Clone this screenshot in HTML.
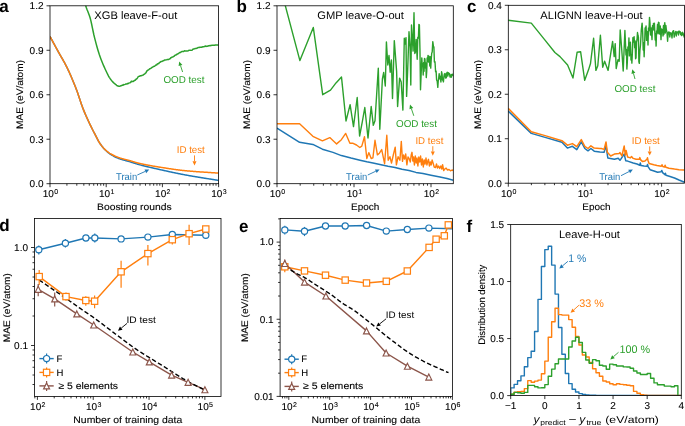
<!DOCTYPE html>
<html><head><meta charset="utf-8"><style>
html,body{margin:0;padding:0;background:#fff;}
svg{display:block;font-family:"Liberation Sans", sans-serif;will-change:transform;text-rendering:geometricPrecision;}
</style></head><body>
<svg width="685" height="426" viewBox="0 0 685 426">
<rect width="685" height="426" fill="#fff"/>
<defs>
<clipPath id="ca"><rect x="50" y="5.8" width="168.6" height="177.9"/></clipPath>
<clipPath id="cb"><rect x="277" y="5.8" width="176.3" height="177.9"/></clipPath>
<clipPath id="cc"><rect x="508.3" y="5.3" width="176.2" height="177.9"/></clipPath>
<clipPath id="cd"><rect x="34.5" y="218.5" width="186.5" height="177.9"/></clipPath>
<clipPath id="ce"><rect x="280.1" y="218.5" width="172.3" height="177.9"/></clipPath>
<clipPath id="cf"><rect x="510.7" y="224.5" width="170.6" height="171.1"/></clipPath>
</defs>
<path d="M50,36.5 L50.51,37.43 L51.01,38.36 L51.52,39.29 L52.02,40.22 L52.53,41.16 L53.04,42.09 L53.54,43.02 L54.05,43.95 L54.55,44.88 L55.06,45.81 L55.56,46.74 L56.07,47.67 L56.58,48.6 L57.08,49.53 L57.59,50.45 L58.09,51.38 L58.6,52.3 L59.11,53.23 L59.62,54.14 L60.14,55.04 L60.65,55.93 L61.16,56.82 L61.67,57.71 L62.19,58.6 L62.7,59.49 L63.21,60.38 L63.73,61.29 L64.24,62.21 L64.75,63.15 L65.26,64.1 L65.77,65.08 L66.29,66.07 L66.8,67.1 L67.32,68.16 L67.83,69.23 L68.35,70.32 L68.86,71.43 L69.38,72.56 L69.89,73.71 L70.41,74.87 L70.93,76.05 L71.44,77.24 L71.96,78.45 L72.47,79.68 L72.99,80.92 L73.51,82.18 L74.02,83.45 L74.54,84.73 L75.05,86.03 L75.57,87.34 L76.08,88.66 L76.6,90 L77.1,91.34 L77.6,92.73 L78.1,94.17 L78.6,95.65 L79.1,97.16 L79.6,98.68 L80.1,100.2 L80.6,101.72 L81.1,103.22 L81.6,104.68 L82.1,106.11 L82.6,107.49 L83.1,108.8 L83.62,110.11 L84.14,111.38 L84.65,112.63 L85.17,113.85 L85.69,115.05 L86.21,116.23 L86.73,117.39 L87.25,118.53 L87.76,119.66 L88.28,120.78 L88.8,121.9 L89.31,122.99 L89.82,124.06 L90.33,125.12 L90.84,126.16 L91.35,127.19 L91.85,128.22 L92.36,129.23 L92.87,130.23 L93.38,131.23 L93.89,132.22 L94.4,133.2 L94.91,134.19 L95.42,135.19 L95.93,136.19 L96.44,137.19 L96.95,138.18 L97.45,139.16 L97.96,140.11 L98.47,141.02 L98.98,141.9 L99.49,142.73 L100,143.5 L100.51,144.23 L101.02,144.94 L101.53,145.63 L102.04,146.3 L102.55,146.94 L103.05,147.56 L103.56,148.16 L104.07,148.73 L104.58,149.28 L105.09,149.8 L105.6,150.3 L106.12,150.79 L106.64,151.26 L107.15,151.72 L107.67,152.16 L108.19,152.59 L108.71,153 L109.23,153.39 L109.75,153.77 L110.26,154.13 L110.78,154.47 L111.3,154.8 L111.8,155.1 L112.3,155.4 L112.8,155.68 L113.3,155.96 L113.8,156.23 L114.3,156.5 L114.8,156.75 L115.3,157 L115.8,157.23 L116.3,157.46 L116.8,157.69 L117.3,157.9 L117.8,158.11 L118.3,158.31 L118.8,158.5 L119.31,158.69 L119.82,158.87 L120.33,159.04 L120.84,159.21 L121.35,159.37 L121.85,159.53 L122.36,159.68 L122.87,159.83 L123.38,159.97 L123.89,160.11 L124.4,160.25 L124.91,160.39 L125.42,160.53 L125.93,160.67 L126.44,160.8 L126.95,160.94 L127.45,161.08 L127.96,161.22 L128.47,161.36 L128.98,161.5 L129.49,161.65 L130,161.8 L130.51,161.95 L131.01,162.11 L131.52,162.27 L132.02,162.43 L132.53,162.59 L133.03,162.75 L133.54,162.91 L134.04,163.07 L134.55,163.23 L135.06,163.39 L135.56,163.55 L136.07,163.71 L136.57,163.86 L137.08,164.02 L137.58,164.17 L138.09,164.32 L138.59,164.46 L139.1,164.6 L139.6,164.74 L140.11,164.87 L140.61,165.01 L141.11,165.14 L141.61,165.27 L142.12,165.4 L142.62,165.53 L143.12,165.66 L143.62,165.79 L144.13,165.92 L144.63,166.04 L145.13,166.17 L145.63,166.29 L146.14,166.41 L146.64,166.54 L147.14,166.66 L147.64,166.78 L148.15,166.9 L148.65,167.02 L149.15,167.14 L149.66,167.25 L150.16,167.37 L150.66,167.49 L151.16,167.6 L151.67,167.72 L152.17,167.83 L152.67,167.95 L153.17,168.06 L153.68,168.18 L154.18,168.29 L154.68,168.41 L155.18,168.52 L155.69,168.63 L156.19,168.75 L156.69,168.86 L157.19,168.97 L157.7,169.09 L158.2,169.2 L158.7,169.31 L159.2,169.43 L159.71,169.54 L160.21,169.65 L160.71,169.76 L161.21,169.88 L161.71,169.99 L162.21,170.1 L162.72,170.21 L163.22,170.32 L163.72,170.44 L164.22,170.55 L164.72,170.66 L165.22,170.77 L165.73,170.88 L166.23,170.99 L166.73,171.1 L167.23,171.21 L167.73,171.32 L168.24,171.43 L168.74,171.54 L169.24,171.65 L169.74,171.75 L170.24,171.86 L170.74,171.97 L171.25,172.08 L171.75,172.18 L172.25,172.29 L172.75,172.4 L173.25,172.5 L173.76,172.61 L174.26,172.71 L174.76,172.82 L175.26,172.92 L175.76,173.03 L176.26,173.13 L176.77,173.23 L177.27,173.34 L177.77,173.44 L178.27,173.54 L178.77,173.64 L179.28,173.74 L179.78,173.84 L180.28,173.94 L180.78,174.04 L181.28,174.14 L181.78,174.24 L182.29,174.34 L182.79,174.44 L183.29,174.53 L183.79,174.63 L184.29,174.72 L184.79,174.82 L185.3,174.91 L185.8,175.01 L186.3,175.1 L186.8,175.19 L187.31,175.28 L187.81,175.38 L188.31,175.47 L188.82,175.56 L189.32,175.65 L189.82,175.74 L190.33,175.83 L190.83,175.91 L191.33,176 L191.83,176.09 L192.34,176.18 L192.84,176.26 L193.34,176.35 L193.85,176.43 L194.35,176.52 L194.85,176.6 L195.36,176.69 L195.86,176.77 L196.36,176.85 L196.87,176.94 L197.37,177.02 L197.87,177.1 L198.38,177.18 L198.88,177.27 L199.38,177.35 L199.88,177.43 L200.39,177.51 L200.89,177.59 L201.39,177.67 L201.9,177.75 L202.4,177.83 L202.9,177.91 L203.41,177.99 L203.91,178.07 L204.41,178.15 L204.92,178.23 L205.42,178.31 L205.92,178.39 L206.43,178.47 L206.93,178.55 L207.43,178.63 L207.93,178.71 L208.44,178.79 L208.94,178.87 L209.44,178.95 L209.95,179.03 L210.45,179.11 L210.95,179.19 L211.46,179.27 L211.96,179.35 L212.46,179.43 L212.97,179.51 L213.47,179.59 L213.97,179.67 L214.47,179.75 L214.98,179.83 L215.48,179.91 L215.98,179.99 L216.49,180.07 L216.99,180.15 L217.49,180.23 L218,180.32 L218.5,180.4" fill="none" stroke="#1f77b4" stroke-width="1.5" stroke-linejoin="round" stroke-linecap="butt" clip-path="url(#ca)" />
<path d="M50,36.5 L50.51,37.43 L51.01,38.36 L51.52,39.29 L52.02,40.22 L52.53,41.16 L53.04,42.09 L53.54,43.02 L54.05,43.95 L54.55,44.88 L55.06,45.81 L55.56,46.74 L56.07,47.67 L56.58,48.6 L57.08,49.53 L57.59,50.45 L58.09,51.38 L58.6,52.3 L59.11,53.23 L59.62,54.14 L60.14,55.04 L60.65,55.93 L61.16,56.82 L61.67,57.71 L62.19,58.6 L62.7,59.49 L63.21,60.38 L63.73,61.29 L64.24,62.21 L64.75,63.15 L65.26,64.1 L65.77,65.08 L66.29,66.07 L66.8,67.1 L67.32,68.16 L67.83,69.23 L68.35,70.32 L68.86,71.43 L69.38,72.56 L69.89,73.71 L70.41,74.87 L70.93,76.05 L71.44,77.24 L71.96,78.45 L72.47,79.68 L72.99,80.92 L73.51,82.18 L74.02,83.45 L74.54,84.73 L75.05,86.03 L75.57,87.34 L76.08,88.66 L76.6,90 L77.1,91.34 L77.6,92.73 L78.1,94.17 L78.6,95.65 L79.1,97.16 L79.6,98.68 L80.1,100.2 L80.6,101.72 L81.1,103.22 L81.6,104.68 L82.1,106.11 L82.6,107.49 L83.1,108.8 L83.62,110.11 L84.14,111.38 L84.65,112.63 L85.17,113.85 L85.69,115.05 L86.21,116.23 L86.73,117.39 L87.25,118.53 L87.76,119.66 L88.28,120.78 L88.8,121.9 L89.31,122.99 L89.82,124.06 L90.33,125.12 L90.84,126.16 L91.35,127.19 L91.85,128.22 L92.36,129.23 L92.87,130.23 L93.38,131.23 L93.89,132.22 L94.4,133.2 L94.91,134.19 L95.42,135.19 L95.93,136.2 L96.44,137.21 L96.95,138.2 L97.45,139.18 L97.96,140.13 L98.47,141.04 L98.98,141.91 L99.49,142.74 L100,143.5 L100.51,144.22 L101.02,144.92 L101.53,145.59 L102.04,146.25 L102.55,146.88 L103.05,147.48 L103.56,148.06 L104.07,148.61 L104.58,149.13 L105.09,149.63 L105.6,150.1 L106.12,150.55 L106.64,150.99 L107.15,151.41 L107.67,151.81 L108.19,152.2 L108.71,152.57 L109.23,152.92 L109.75,153.27 L110.26,153.59 L110.78,153.9 L111.3,154.2 L111.8,154.48 L112.3,154.75 L112.8,155.01 L113.3,155.26 L113.8,155.51 L114.3,155.75 L114.8,155.99 L115.3,156.21 L115.8,156.43 L116.3,156.64 L116.8,156.85 L117.3,157.05 L117.8,157.24 L118.3,157.42 L118.8,157.6 L119.31,157.77 L119.82,157.94 L120.33,158.1 L120.84,158.26 L121.35,158.41 L121.85,158.56 L122.36,158.7 L122.87,158.84 L123.38,158.98 L123.89,159.11 L124.4,159.25 L124.91,159.38 L125.42,159.5 L125.93,159.63 L126.44,159.76 L126.95,159.89 L127.45,160.02 L127.96,160.15 L128.47,160.29 L128.98,160.42 L129.49,160.56 L130,160.7 L130.51,160.84 L131.01,160.99 L131.52,161.14 L132.02,161.29 L132.53,161.44 L133.03,161.6 L133.54,161.75 L134.04,161.9 L134.55,162.06 L135.06,162.21 L135.56,162.36 L136.07,162.5 L136.57,162.65 L137.08,162.79 L137.58,162.92 L138.09,163.05 L138.59,163.18 L139.1,163.3 L139.6,163.42 L140.11,163.53 L140.61,163.64 L141.11,163.76 L141.61,163.87 L142.12,163.97 L142.62,164.08 L143.12,164.19 L143.62,164.29 L144.13,164.39 L144.63,164.5 L145.13,164.6 L145.63,164.7 L146.14,164.79 L146.64,164.89 L147.14,164.99 L147.64,165.08 L148.15,165.18 L148.65,165.27 L149.15,165.36 L149.66,165.45 L150.16,165.54 L150.66,165.63 L151.16,165.72 L151.67,165.81 L152.17,165.9 L152.67,165.98 L153.17,166.07 L153.68,166.15 L154.18,166.24 L154.68,166.32 L155.18,166.41 L155.69,166.49 L156.19,166.57 L156.69,166.66 L157.19,166.74 L157.7,166.82 L158.2,166.9 L158.7,166.98 L159.2,167.06 L159.71,167.14 L160.21,167.22 L160.71,167.3 L161.21,167.38 L161.71,167.47 L162.21,167.55 L162.72,167.63 L163.22,167.71 L163.72,167.78 L164.22,167.86 L164.72,167.94 L165.22,168.02 L165.73,168.1 L166.23,168.18 L166.73,168.26 L167.23,168.33 L167.73,168.41 L168.24,168.49 L168.74,168.56 L169.24,168.64 L169.74,168.71 L170.24,168.79 L170.74,168.86 L171.25,168.94 L171.75,169.01 L172.25,169.08 L172.75,169.16 L173.25,169.23 L173.76,169.3 L174.26,169.37 L174.76,169.44 L175.26,169.51 L175.76,169.57 L176.26,169.64 L176.77,169.71 L177.27,169.77 L177.77,169.84 L178.27,169.9 L178.77,169.97 L179.28,170.03 L179.78,170.09 L180.28,170.15 L180.78,170.21 L181.28,170.27 L181.78,170.33 L182.29,170.38 L182.79,170.44 L183.29,170.49 L183.79,170.55 L184.29,170.6 L184.79,170.65 L185.3,170.7 L185.8,170.75 L186.3,170.8 L186.8,170.85 L187.31,170.89 L187.81,170.94 L188.31,170.99 L188.82,171.03 L189.32,171.07 L189.82,171.12 L190.33,171.16 L190.83,171.2 L191.33,171.24 L191.83,171.28 L192.34,171.33 L192.84,171.37 L193.34,171.4 L193.85,171.44 L194.35,171.48 L194.85,171.52 L195.36,171.56 L195.86,171.59 L196.36,171.63 L196.87,171.67 L197.37,171.7 L197.87,171.74 L198.38,171.77 L198.88,171.81 L199.38,171.84 L199.88,171.88 L200.39,171.91 L200.89,171.95 L201.39,171.98 L201.9,172.01 L202.4,172.04 L202.9,172.08 L203.41,172.11 L203.91,172.14 L204.41,172.18 L204.92,172.21 L205.42,172.24 L205.92,172.27 L206.43,172.3 L206.93,172.34 L207.43,172.37 L207.93,172.4 L208.44,172.43 L208.94,172.46 L209.44,172.5 L209.95,172.53 L210.45,172.56 L210.95,172.59 L211.46,172.63 L211.96,172.66 L212.46,172.69 L212.97,172.72 L213.47,172.76 L213.97,172.79 L214.47,172.82 L214.98,172.86 L215.48,172.89 L215.98,172.92 L216.49,172.96 L216.99,172.99 L217.49,173.03 L218,173.06 L218.5,173.1" fill="none" stroke="#ff7f0e" stroke-width="1.5" stroke-linejoin="round" stroke-linecap="butt" clip-path="url(#ca)" />
<path d="M84.3,0 L84.95,2.76 L85.6,5.3 L86.35,7.65 L87.1,9.68 L87.85,11.55 L88.6,13.42 L89.35,15.45 L90.1,17.8 L90.85,20.67 L91.6,23.99 L92.35,27.58 L93.1,31.23 L93.85,34.74 L94.6,37.9 L95.39,40.93 L96.17,43.87 L96.96,46.71 L97.74,49.44 L98.53,52.04 L99.31,54.5 L100.1,56.8 L100.8,58.73 L101.5,60.56 L102.2,62.32 L102.9,64 L103.6,65.62 L104.3,67.18 L105,68.71 L105.7,70.2 L106.42,71.72 L107.13,73.22 L107.85,74.67 L108.57,76.04 L109.28,77.29 L110,78.4 L110.75,79.44 L111.5,80.4 L112.25,81.3 L113,82.12 L113.75,82.85 L114.5,83.5 L115.22,84.1 L115.93,84.71 L116.65,85.28 L117.37,85.76 L118.08,86.08 L118.8,86.2 L119.51,86.15 L120.22,86.03 L120.94,85.84 L121.65,85.49 L122.36,85.11 L123.08,85.19 L123.79,84.53 L124.5,84.63 L125.21,84.31 L125.92,83.93 L126.64,84.08 L127.35,83.58 L128.06,83.66 L128.77,83.16 L129.49,82.88 L130.2,82.75 L130.7,82.39 L131.2,81.34 L131.85,81.3 L132.5,81.49 L133.21,81.49 L133.93,80.91 L134.64,80.35 L135.36,80.25 L136.07,79.01 L136.79,78.94 L137.5,77.85 L137.9,77.17 L138.3,76.63 L139.01,76.32 L139.73,76.34 L140.44,75.63 L141.15,75.7 L141.86,75.54 L142.57,75.14 L143.29,74.99 L144,74.29 L144.75,73.79 L145.5,73.19 L146.15,72.43 L146.8,71.15 L147.65,70.29 L148.5,69.86 L149.24,69.24 L149.97,68.62 L150.71,68.48 L151.45,67.95 L152.18,67.17 L152.92,66.96 L153.65,66.48 L154.39,66.29 L155.13,65.75 L155.86,65 L156.6,65.04 L157.32,63.98 L158.04,63.72 L158.76,63.47 L159.48,62.57 L160.2,62.33 L160.92,61.56 L161.64,61.57 L162.36,61.24 L163.08,60.75 L163.8,60.66 L164.51,60.03 L165.22,60.1 L165.93,59.87 L166.64,59.72 L167.36,59.48 L168.07,59.59 L168.78,59.47 L169.49,58.89 L170.2,58.71 L170.85,57.73 L171.5,57.54 L172.4,56.94 L173.3,56.71 L174.2,56.13 L174.92,55.36 L175.65,55.06 L176.38,54.89 L177.1,54.07 L177.82,54 L178.55,53.41 L179.28,52.97 L180,52.49 L180.65,52.5 L181.3,51.64 L182.08,51.47 L182.87,51.37 L183.65,51.55 L184.43,50.86 L185.22,50.99 L186,50.93 L186.72,51.06 L187.43,50.92 L188.15,50.87 L188.87,50.37 L189.58,50.36 L190.3,50.2 L191.14,50.37 L191.98,50.17 L192.82,49.32 L193.66,49.05 L194.5,48.81 L195.26,48.57 L196.02,48.49 L196.78,48.32 L197.54,47.85 L198.3,47.45 L199.08,47.54 L199.87,47.3 L200.65,47.25 L201.43,47.34 L202.22,46.99 L203,46.71 L203.71,46.65 L204.43,46.56 L205.14,46 L205.86,46.47 L206.57,46.28 L207.29,46.25 L208,46.11 L208.71,45.75 L209.43,45.69 L210.14,45.42 L210.86,45.73 L211.57,45.28 L212.29,45.24 L213,45.3 L213.79,45.23 L214.57,45.32 L215.36,45.09 L216.14,45.03 L216.93,45.11 L217.71,45.05 L218.5,45.2" fill="none" stroke="#2ca02c" stroke-width="1.5" stroke-linejoin="round" stroke-linecap="butt" clip-path="url(#ca)" />
<rect x="50" y="5.8" width="168.6" height="177.9" fill="none" stroke="#000" stroke-width="0.8"/>
<line x1="46.5" y1="183.7" x2="50" y2="183.7" stroke="#000" stroke-width="0.8"/>
<text x="43.5" y="187.05" font-size="10" text-anchor="end" fill="#000" font-weight="normal" stroke="#000" stroke-width="0.1" >0.0</text>
<line x1="46.5" y1="139.22" x2="50" y2="139.22" stroke="#000" stroke-width="0.8"/>
<text x="43.5" y="142.57" font-size="10" text-anchor="end" fill="#000" font-weight="normal" stroke="#000" stroke-width="0.1" >0.3</text>
<line x1="46.5" y1="94.75" x2="50" y2="94.75" stroke="#000" stroke-width="0.8"/>
<text x="43.5" y="98.1" font-size="10" text-anchor="end" fill="#000" font-weight="normal" stroke="#000" stroke-width="0.1" >0.6</text>
<line x1="46.5" y1="50.28" x2="50" y2="50.28" stroke="#000" stroke-width="0.8"/>
<text x="43.5" y="53.63" font-size="10" text-anchor="end" fill="#000" font-weight="normal" stroke="#000" stroke-width="0.1" >0.9</text>
<line x1="46.5" y1="5.8" x2="50" y2="5.8" stroke="#000" stroke-width="0.8"/>
<text x="43.5" y="9.15" font-size="10" text-anchor="end" fill="#000" font-weight="normal" stroke="#000" stroke-width="0.1" >1.2</text>
<line x1="50" y1="183.7" x2="50" y2="187.2" stroke="#000" stroke-width="0.8"/>
<line x1="66.92" y1="183.7" x2="66.92" y2="185.7" stroke="#000" stroke-width="0.8"/>
<line x1="76.81" y1="183.7" x2="76.81" y2="185.7" stroke="#000" stroke-width="0.8"/>
<line x1="83.84" y1="183.7" x2="83.84" y2="185.7" stroke="#000" stroke-width="0.8"/>
<line x1="89.28" y1="183.7" x2="89.28" y2="185.7" stroke="#000" stroke-width="0.8"/>
<line x1="93.73" y1="183.7" x2="93.73" y2="185.7" stroke="#000" stroke-width="0.8"/>
<line x1="97.49" y1="183.7" x2="97.49" y2="185.7" stroke="#000" stroke-width="0.8"/>
<line x1="100.75" y1="183.7" x2="100.75" y2="185.7" stroke="#000" stroke-width="0.8"/>
<line x1="103.63" y1="183.7" x2="103.63" y2="185.7" stroke="#000" stroke-width="0.8"/>
<line x1="106.2" y1="183.7" x2="106.2" y2="187.2" stroke="#000" stroke-width="0.8"/>
<line x1="123.12" y1="183.7" x2="123.12" y2="185.7" stroke="#000" stroke-width="0.8"/>
<line x1="133.01" y1="183.7" x2="133.01" y2="185.7" stroke="#000" stroke-width="0.8"/>
<line x1="140.04" y1="183.7" x2="140.04" y2="185.7" stroke="#000" stroke-width="0.8"/>
<line x1="145.48" y1="183.7" x2="145.48" y2="185.7" stroke="#000" stroke-width="0.8"/>
<line x1="149.93" y1="183.7" x2="149.93" y2="185.7" stroke="#000" stroke-width="0.8"/>
<line x1="153.69" y1="183.7" x2="153.69" y2="185.7" stroke="#000" stroke-width="0.8"/>
<line x1="156.95" y1="183.7" x2="156.95" y2="185.7" stroke="#000" stroke-width="0.8"/>
<line x1="159.83" y1="183.7" x2="159.83" y2="185.7" stroke="#000" stroke-width="0.8"/>
<line x1="162.4" y1="183.7" x2="162.4" y2="187.2" stroke="#000" stroke-width="0.8"/>
<line x1="179.32" y1="183.7" x2="179.32" y2="185.7" stroke="#000" stroke-width="0.8"/>
<line x1="189.21" y1="183.7" x2="189.21" y2="185.7" stroke="#000" stroke-width="0.8"/>
<line x1="196.24" y1="183.7" x2="196.24" y2="185.7" stroke="#000" stroke-width="0.8"/>
<line x1="201.68" y1="183.7" x2="201.68" y2="185.7" stroke="#000" stroke-width="0.8"/>
<line x1="206.13" y1="183.7" x2="206.13" y2="185.7" stroke="#000" stroke-width="0.8"/>
<line x1="209.89" y1="183.7" x2="209.89" y2="185.7" stroke="#000" stroke-width="0.8"/>
<line x1="213.15" y1="183.7" x2="213.15" y2="185.7" stroke="#000" stroke-width="0.8"/>
<line x1="216.03" y1="183.7" x2="216.03" y2="185.7" stroke="#000" stroke-width="0.8"/>
<line x1="218.6" y1="183.7" x2="218.6" y2="187.2" stroke="#000" stroke-width="0.8"/>
<text x="42.7" y="197.4" font-size="10" text-anchor="start" fill="#000" font-weight="normal" stroke="#000" stroke-width="0.1" >10</text>
<text x="54.2" y="194" font-size="7" text-anchor="start" fill="#000" font-weight="normal" stroke="#000" stroke-width="0.1" >0</text>
<text x="98.9" y="197.4" font-size="10" text-anchor="start" fill="#000" font-weight="normal" stroke="#000" stroke-width="0.1" >10</text>
<text x="110.4" y="194" font-size="7" text-anchor="start" fill="#000" font-weight="normal" stroke="#000" stroke-width="0.1" >1</text>
<text x="155.1" y="197.4" font-size="10" text-anchor="start" fill="#000" font-weight="normal" stroke="#000" stroke-width="0.1" >10</text>
<text x="166.6" y="194" font-size="7" text-anchor="start" fill="#000" font-weight="normal" stroke="#000" stroke-width="0.1" >2</text>
<text x="211.3" y="197.4" font-size="10" text-anchor="start" fill="#000" font-weight="normal" stroke="#000" stroke-width="0.1" >10</text>
<text x="222.8" y="194" font-size="7" text-anchor="start" fill="#000" font-weight="normal" stroke="#000" stroke-width="0.1" >3</text>
<text x="135.8" y="19" font-size="11" text-anchor="middle" fill="#000" font-weight="normal" textLength="83" lengthAdjust="spacingAndGlyphs" >XGB leave-F-out</text>
<text x="163.4" y="83.2" font-size="9.9" text-anchor="start" fill="#2ca02c" font-weight="normal" textLength="41" lengthAdjust="spacingAndGlyphs" >OOD test</text>
<line x1="182.6" y1="72" x2="180.49" y2="65.5" stroke="#2ca02c" stroke-width="0.9"/>
<path d="M179.2,61.5 L182.4,64.88 L178.59,66.11 z" fill="#2ca02c"/>
<text x="176.8" y="153.2" font-size="9.9" text-anchor="start" fill="#ff7f0e" font-weight="normal" textLength="28" lengthAdjust="spacingAndGlyphs" >ID test</text>
<line x1="194.5" y1="155.4" x2="194.5" y2="161.2" stroke="#ff7f0e" stroke-width="0.9"/>
<path d="M194.5,165.4 L192.5,161.2 L196.5,161.2 z" fill="#ff7f0e"/>
<text x="116" y="179.8" font-size="9.9" text-anchor="start" fill="#1f77b4" font-weight="normal" textLength="21.2" lengthAdjust="spacingAndGlyphs" >Train</text>
<line x1="137.3" y1="175" x2="145.38" y2="171.34" stroke="#1f77b4" stroke-width="0.9"/>
<path d="M149.2,169.6 L146.2,173.16 L144.55,169.51 z" fill="#1f77b4"/>
<text x="134.4" y="209.8" font-size="9.5" text-anchor="middle" fill="#000" font-weight="normal" textLength="74.6" lengthAdjust="spacingAndGlyphs" stroke="#000" stroke-width="0.1" >Boosting rounds</text>
<text x="0" y="0" font-size="9.5" text-anchor="middle" fill="#000" font-weight="normal" textLength="69" lengthAdjust="spacingAndGlyphs" stroke="#000" stroke-width="0.1" transform="translate(23.1,94.5) rotate(-90)">MAE (eV/atom)</text>
<text x="-0.7" y="12.2" font-size="17" text-anchor="start" fill="#000" font-weight="bold" >a</text>
<path d="M277,128.1 L299.6,142.3 L312.9,144.4 L322.4,149.2 L333,152.4 L341.4,155.6 L351,158.1 L360,160.2 L366.8,161.8 L373,162.9 L381,164.7 L388,166.3 L395,167.5 L402,169.3 L409,170.5 L416,172.4 L423,173.6 L431,175.2 L440,177 L447,178.6 L453.3,180.2" fill="none" stroke="#1f77b4" stroke-width="1.5" stroke-linejoin="round" stroke-linecap="butt" clip-path="url(#cb)" />
<path d="M277,123.7 L299.6,123.7 L312.9,136.3 L322.4,140.8 L329.8,137.6 L336.6,143.9 L341.4,139.7 L345.7,133.4 L349.9,143.3 L353.1,143.3 L356.5,145 L359.8,147.5 L361.8,146.1 L364.5,136.7 L366.8,158.5 L368.8,152.6 L371.2,158.5 L372.9,157.9 L375,140.3 L377.4,154.9 L379.4,153.2 L381.7,149.6 L384.6,163.7 L386.8,135.3 L388.2,160.2 L389.9,156.7 L391.5,163.1 L393.3,155 L395.2,147.1 L396.4,164.9 L398.1,156.7 L399.9,160.2 L401.3,141.4 L402.5,161.4 L403.5,155 L404.6,159 L405.7,154 L406.9,164.9 L408,157 L409.3,159 L410.3,162 L411.2,155 L412,152.3 L412.8,161 L413.6,157 L414.4,165 L415.3,156 L416.2,163 L417,158 L417.9,166 L418.8,157 L419.7,162 L420.6,156 L421.5,165 L422.4,159 L423.3,167 L424.2,160 L425.1,164 L426,158 L426.9,165 L427.8,161 L428.5,159.3 L429.4,166 L430.3,162 L431.2,165 L432.1,160 L433.2,163.5 L434.2,167 L435.5,167.6 L436.5,164 L437.5,168 L438.6,166 L439.7,168.5 L440.8,166 L441.8,169 L442.6,164.6 L443.7,170.5 L444.8,169 L446.1,168.1 L447.5,170 L449,169.5 L450.5,170.8 L452,170 L453.3,170.5" fill="none" stroke="#ff7f0e" stroke-width="1.4" stroke-linejoin="round" stroke-linecap="butt" clip-path="url(#cb)" />
<path d="M277,-25.6 L299.9,60.6 L313.3,27.4 L322.7,94.7 L330.5,90.2 L336,82.9 L341.5,77.1 L346,121 L350.1,104.7 L353.5,126.6 L357.2,97.5 L359.6,136 L362.3,121.9 L364.8,107.5 L368,138 L371.2,106.5 L373.3,125.3 L375,120.8 L378.3,68.3 L379.8,129.3 L382.4,79 L383.7,72.5 L385.3,86 L386.4,41.9 L387.8,65 L389,55.5 L390.2,72.3 L391.4,59.9 L392.5,98.5 L394.3,40.6 L396.6,71.1 L397.6,106.5 L399.6,78.1 L401.2,82 L402.9,110.1 L404.3,38.2 L405.3,44 L406,37.6 L406.6,96.4 L407.6,72 L409,31.8 L410.1,47.6 L410.8,85 L411.5,25 L413.1,51.1 L414,12.8 L414.8,53.5 L415.6,51.8 L416.2,39.4 L417.2,59.3 L417.8,37.3 L418.4,38.2 L418.9,24.37 L419.4,25 L419.95,49.45 L420.5,89.7 L421.3,70 L421.8,57.87 L422.3,66.3 L422.75,64.03 L423.2,75 L423.63,62.74 L424.07,71.24 L424.5,58.5 L424.95,58.99 L425.4,68 L425.83,62.91 L426.27,77.59 L426.7,71.8 L427.15,57.99 L427.6,60 L428.03,55.44 L428.47,62.01 L428.9,56.2 L429.35,57.98 L429.8,66 L430.27,56.66 L430.73,68.16 L431.2,59.6 L431.7,53.2 L432.2,52 L432.8,41.63 L433.4,46.2 L433.9,47.05 L434.4,62 L435,61.67 L435.6,71.8 L436.1,71.1 L436.6,80 L437.2,81.14 L437.8,87.4 L438.25,80.86 L438.7,78 L439.17,73.65 L439.63,78.75 L440.1,76.3 L440.9,82 L441.6,71.8 L442.05,73.83 L442.5,80 L442.95,78.83 L443.4,81.9 L443.9,76.59 L444.4,74 L444.95,73.55 L445.5,78 L445.93,74.1 L446.37,77.71 L446.8,72.9 L447.3,72.32 L447.8,76 L448.4,72.81 L449,74.1 L449.5,73.6 L450,77 L450.6,74.91 L451.2,77.4 L451.7,74.34 L452.2,75 L452.75,74.17 L453.3,76.3" fill="none" stroke="#2ca02c" stroke-width="1.4" stroke-linejoin="round" stroke-linecap="butt" clip-path="url(#cb)" />
<rect x="277" y="5.8" width="176.3" height="177.9" fill="none" stroke="#000" stroke-width="0.8"/>
<line x1="273.5" y1="183.7" x2="277" y2="183.7" stroke="#000" stroke-width="0.8"/>
<text x="270.5" y="187.05" font-size="10" text-anchor="end" fill="#000" font-weight="normal" stroke="#000" stroke-width="0.1" >0.0</text>
<line x1="273.5" y1="139.22" x2="277" y2="139.22" stroke="#000" stroke-width="0.8"/>
<text x="270.5" y="142.57" font-size="10" text-anchor="end" fill="#000" font-weight="normal" stroke="#000" stroke-width="0.1" >0.3</text>
<line x1="273.5" y1="94.75" x2="277" y2="94.75" stroke="#000" stroke-width="0.8"/>
<text x="270.5" y="98.1" font-size="10" text-anchor="end" fill="#000" font-weight="normal" stroke="#000" stroke-width="0.1" >0.6</text>
<line x1="273.5" y1="50.28" x2="277" y2="50.28" stroke="#000" stroke-width="0.8"/>
<text x="270.5" y="53.63" font-size="10" text-anchor="end" fill="#000" font-weight="normal" stroke="#000" stroke-width="0.1" >0.9</text>
<line x1="273.5" y1="5.8" x2="277" y2="5.8" stroke="#000" stroke-width="0.8"/>
<text x="270.5" y="9.15" font-size="10" text-anchor="end" fill="#000" font-weight="normal" stroke="#000" stroke-width="0.1" >1.2</text>
<line x1="277" y1="183.7" x2="277" y2="187.2" stroke="#000" stroke-width="0.8"/>
<line x1="300.18" y1="183.7" x2="300.18" y2="185.7" stroke="#000" stroke-width="0.8"/>
<line x1="313.74" y1="183.7" x2="313.74" y2="185.7" stroke="#000" stroke-width="0.8"/>
<line x1="323.36" y1="183.7" x2="323.36" y2="185.7" stroke="#000" stroke-width="0.8"/>
<line x1="330.82" y1="183.7" x2="330.82" y2="185.7" stroke="#000" stroke-width="0.8"/>
<line x1="336.92" y1="183.7" x2="336.92" y2="185.7" stroke="#000" stroke-width="0.8"/>
<line x1="342.07" y1="183.7" x2="342.07" y2="185.7" stroke="#000" stroke-width="0.8"/>
<line x1="346.54" y1="183.7" x2="346.54" y2="185.7" stroke="#000" stroke-width="0.8"/>
<line x1="350.48" y1="183.7" x2="350.48" y2="185.7" stroke="#000" stroke-width="0.8"/>
<line x1="354" y1="183.7" x2="354" y2="187.2" stroke="#000" stroke-width="0.8"/>
<line x1="377.18" y1="183.7" x2="377.18" y2="185.7" stroke="#000" stroke-width="0.8"/>
<line x1="390.74" y1="183.7" x2="390.74" y2="185.7" stroke="#000" stroke-width="0.8"/>
<line x1="400.36" y1="183.7" x2="400.36" y2="185.7" stroke="#000" stroke-width="0.8"/>
<line x1="407.82" y1="183.7" x2="407.82" y2="185.7" stroke="#000" stroke-width="0.8"/>
<line x1="413.92" y1="183.7" x2="413.92" y2="185.7" stroke="#000" stroke-width="0.8"/>
<line x1="419.07" y1="183.7" x2="419.07" y2="185.7" stroke="#000" stroke-width="0.8"/>
<line x1="423.54" y1="183.7" x2="423.54" y2="185.7" stroke="#000" stroke-width="0.8"/>
<line x1="427.48" y1="183.7" x2="427.48" y2="185.7" stroke="#000" stroke-width="0.8"/>
<line x1="431" y1="183.7" x2="431" y2="187.2" stroke="#000" stroke-width="0.8"/>
<text x="269.7" y="197.4" font-size="10" text-anchor="start" fill="#000" font-weight="normal" stroke="#000" stroke-width="0.1" >10</text>
<text x="281.2" y="194" font-size="7" text-anchor="start" fill="#000" font-weight="normal" stroke="#000" stroke-width="0.1" >0</text>
<text x="346.7" y="197.4" font-size="10" text-anchor="start" fill="#000" font-weight="normal" stroke="#000" stroke-width="0.1" >10</text>
<text x="358.2" y="194" font-size="7" text-anchor="start" fill="#000" font-weight="normal" stroke="#000" stroke-width="0.1" >1</text>
<text x="423.7" y="197.4" font-size="10" text-anchor="start" fill="#000" font-weight="normal" stroke="#000" stroke-width="0.1" >10</text>
<text x="435.2" y="194" font-size="7" text-anchor="start" fill="#000" font-weight="normal" stroke="#000" stroke-width="0.1" >2</text>
<text x="360.6" y="19" font-size="11" text-anchor="middle" fill="#000" font-weight="normal" textLength="86.6" lengthAdjust="spacingAndGlyphs" >GMP leave-O-out</text>
<text x="396" y="126.9" font-size="9.9" text-anchor="start" fill="#2ca02c" font-weight="normal" textLength="41" lengthAdjust="spacingAndGlyphs" >OOD test</text>
<line x1="413.8" y1="115.8" x2="411.35" y2="108.58" stroke="#2ca02c" stroke-width="0.9"/>
<path d="M410,104.6 L413.24,107.93 L409.46,109.22 z" fill="#2ca02c"/>
<text x="415.4" y="144.3" font-size="9.9" text-anchor="start" fill="#ff7f0e" font-weight="normal" textLength="28" lengthAdjust="spacingAndGlyphs" >ID test</text>
<line x1="432.8" y1="146.2" x2="432.8" y2="151.6" stroke="#ff7f0e" stroke-width="0.9"/>
<path d="M432.8,155.8 L430.8,151.6 L434.8,151.6 z" fill="#ff7f0e"/>
<text x="346.1" y="180.4" font-size="9.9" text-anchor="start" fill="#1f77b4" font-weight="normal" textLength="21.2" lengthAdjust="spacingAndGlyphs" >Train</text>
<line x1="367.8" y1="175" x2="375.81" y2="171.2" stroke="#1f77b4" stroke-width="0.9"/>
<path d="M379.6,169.4 L376.66,173.01 L374.95,169.39 z" fill="#1f77b4"/>
<text x="365.1" y="210.2" font-size="9.5" text-anchor="middle" fill="#000" font-weight="normal" textLength="28.2" lengthAdjust="spacingAndGlyphs" stroke="#000" stroke-width="0.1" >Epoch</text>
<text x="0" y="0" font-size="9.5" text-anchor="middle" fill="#000" font-weight="normal" textLength="69" lengthAdjust="spacingAndGlyphs" stroke="#000" stroke-width="0.1" transform="translate(250.1,94.5) rotate(-90)">MAE (eV/atom)</text>
<text x="236.5" y="12" font-size="17" text-anchor="start" fill="#000" font-weight="bold" >b</text>
<path d="M508.2,111.1 L531.3,133.4 L545.1,137.4 L561.9,142.3 L567.4,148.1 L572.4,146.3 L576.8,149.6 L581.3,141.8 L584.8,148.5 L588,150.8 L590.9,148.5 L594.2,151.2 L599.8,151.9 L604.1,152.2 L606,145.7 L607.8,157.9 L614.4,159.2 L618.2,158.2 L620,160.3 L624.2,154.1 L625.7,160.7 L627.6,161.1 L633.2,163 L637,164 L639.8,165.2 L640.3,163 L641,165.6 L644,166 L647,166.2 L647.5,164.5 L648.2,166.8 L650.1,169.7 L654,171 L657.6,172.3 L661,171.8 L661.8,170.5 L662.6,172.6 L665,174.8 L665.4,173.2 L666,175.2 L670,176.5 L674.5,178 L679,180 L684.5,182.3" fill="none" stroke="#1f77b4" stroke-width="1.5" stroke-linejoin="round" stroke-linecap="butt" clip-path="url(#cc)" />
<path d="M508.2,108.4 L531.3,131.8 L545.1,135.6 L561.9,140.7 L567.4,145.2 L572.4,143.6 L576.8,146.7 L581.3,139.6 L584.8,146.3 L588,148.5 L590.9,145.8 L594.2,148.1 L599.8,148.5 L601.3,148.5 L604.1,149.4 L606,141.9 L607.3,152.2 L610.7,156 L614.4,154.1 L619.1,153.6 L620,152.6 L621.9,156 L624.2,146 L625.3,155.1 L626.1,150.4 L627.6,157 L630.4,157.9 L631.5,156.5 L633.2,158.4 L636,159.2 L639.3,159.2 L639.8,157.6 L640.5,159.6 L642.6,161.6 L645,161 L647.1,159 L647.5,157.8 L648,160.5 L649.1,163.5 L653.8,164.8 L657,165.5 L661.3,166.3 L662,164.8 L662.8,166.5 L664.5,167 L665.1,165.3 L665.8,167.3 L669,168.2 L674.5,169.1 L679,169.7 L684.5,170.1" fill="none" stroke="#ff7f0e" stroke-width="1.5" stroke-linejoin="round" stroke-linecap="butt" clip-path="url(#cc)" />
<path d="M508.2,20.3 L531.3,23.1 L544.4,39.4 L554.9,52.5 L560,56.6 L567.6,65 L573,78 L577.1,52.3 L580.6,51.7 L584.7,80.3 L588.6,69.6 L590.5,63.5 L593.6,38.3 L595.9,70.4 L597.8,65.8 L600.4,35.3 L602.7,67.3 L604.6,61.2 L608.1,70.4 L612.6,41.4 L614.2,56.6 L615.2,43.6 L616.2,68.5 L618,59.7 L619.2,61.2 L620.2,30 L621.8,50.5 L623.2,71 L624.9,30.5 L626,55 L626.43,49.44 L626.87,69.08 L627.3,62.6 L627.9,46.88 L628.5,50 L628.93,37.88 L629.37,55.86 L629.8,45.3 L630.4,42.25 L631,60 L631.43,54.61 L631.87,63.15 L632.3,54.4 L632.9,37.64 L633.5,42 L634.1,36.6 L634.7,47.8 L635.13,40.96 L635.57,58.77 L636,58 L636.5,42.09 L637,40 L637.5,32.55 L638,35.5 L638.43,37.31 L638.87,61.82 L639.3,63.4 L639.9,50.8 L640.5,45 L641.3,30 L642.1,23.1 L642.65,31.58 L643.2,50 L643.67,42.71 L644.13,56.69 L644.6,44.5 L645.1,28.05 L645.6,30 L646.07,25.94 L646.53,40.37 L647,31.4 L647.5,33.83 L648,45 L648.5,27.84 L649,30.78 L649.5,17.4 L650,23.04 L650.5,35 L651.2,28 L652,39.6 L652.5,25.81 L653,30 L653.47,23.4 L653.93,29.69 L654.4,23.1 L655.2,40 L655.65,34.07 L656.1,46.1 L656.55,30.98 L657,32 L657.5,24.43 L658,33.8 L658.5,22.3 L659,22.56 L659.5,34 L660.3,26 L661,39.6 L661.5,28.89 L662,30 L662.5,29.73 L663,36 L663.43,25.69 L663.87,34.58 L664.3,25.6 L664.8,22.66 L665.3,33 L665.85,25.45 L666.4,30 L667,32.42 L667.6,41.2 L668.15,33.3 L668.7,32 L669.25,32.13 L669.8,37 L670.35,32.82 L670.9,33 L671.45,33.72 L672,38 L672.55,32.02 L673.1,31 L673.65,30.74 L674.2,37.1 L674.75,33.75 L675.3,33 L675.8,31.36 L676.3,36 L676.85,32.07 L677.4,32.2 L677.95,31.78 L678.5,35 L679.05,30.92 L679.6,32.5 L680.15,31.66 L680.7,34.6 L681.13,32.82 L681.57,35.53 L682,33.5 L682.6,32.27 L683.2,35 L683.63,33.92 L684.07,36.99 L684.5,34.3" fill="none" stroke="#2ca02c" stroke-width="1.4" stroke-linejoin="round" stroke-linecap="butt" clip-path="url(#cc)" />
<rect x="508.3" y="5.3" width="176.2" height="177.9" fill="none" stroke="#000" stroke-width="0.8"/>
<line x1="504.8" y1="183.2" x2="508.3" y2="183.2" stroke="#000" stroke-width="0.8"/>
<text x="501.8" y="186.55" font-size="10" text-anchor="end" fill="#000" font-weight="normal" stroke="#000" stroke-width="0.1" >0.0</text>
<line x1="504.8" y1="138.72" x2="508.3" y2="138.72" stroke="#000" stroke-width="0.8"/>
<text x="501.8" y="142.07" font-size="10" text-anchor="end" fill="#000" font-weight="normal" stroke="#000" stroke-width="0.1" >0.1</text>
<line x1="504.8" y1="94.25" x2="508.3" y2="94.25" stroke="#000" stroke-width="0.8"/>
<text x="501.8" y="97.6" font-size="10" text-anchor="end" fill="#000" font-weight="normal" stroke="#000" stroke-width="0.1" >0.2</text>
<line x1="504.8" y1="49.78" x2="508.3" y2="49.78" stroke="#000" stroke-width="0.8"/>
<text x="501.8" y="53.13" font-size="10" text-anchor="end" fill="#000" font-weight="normal" stroke="#000" stroke-width="0.1" >0.3</text>
<line x1="504.8" y1="5.3" x2="508.3" y2="5.3" stroke="#000" stroke-width="0.8"/>
<text x="501.8" y="8.65" font-size="10" text-anchor="end" fill="#000" font-weight="normal" stroke="#000" stroke-width="0.1" >0.4</text>
<line x1="508.3" y1="183.2" x2="508.3" y2="186.7" stroke="#000" stroke-width="0.8"/>
<line x1="531.38" y1="183.2" x2="531.38" y2="185.2" stroke="#000" stroke-width="0.8"/>
<line x1="544.87" y1="183.2" x2="544.87" y2="185.2" stroke="#000" stroke-width="0.8"/>
<line x1="554.45" y1="183.2" x2="554.45" y2="185.2" stroke="#000" stroke-width="0.8"/>
<line x1="561.88" y1="183.2" x2="561.88" y2="185.2" stroke="#000" stroke-width="0.8"/>
<line x1="567.95" y1="183.2" x2="567.95" y2="185.2" stroke="#000" stroke-width="0.8"/>
<line x1="573.08" y1="183.2" x2="573.08" y2="185.2" stroke="#000" stroke-width="0.8"/>
<line x1="577.53" y1="183.2" x2="577.53" y2="185.2" stroke="#000" stroke-width="0.8"/>
<line x1="581.45" y1="183.2" x2="581.45" y2="185.2" stroke="#000" stroke-width="0.8"/>
<line x1="584.96" y1="183.2" x2="584.96" y2="186.7" stroke="#000" stroke-width="0.8"/>
<line x1="608.03" y1="183.2" x2="608.03" y2="185.2" stroke="#000" stroke-width="0.8"/>
<line x1="621.53" y1="183.2" x2="621.53" y2="185.2" stroke="#000" stroke-width="0.8"/>
<line x1="631.11" y1="183.2" x2="631.11" y2="185.2" stroke="#000" stroke-width="0.8"/>
<line x1="638.54" y1="183.2" x2="638.54" y2="185.2" stroke="#000" stroke-width="0.8"/>
<line x1="644.61" y1="183.2" x2="644.61" y2="185.2" stroke="#000" stroke-width="0.8"/>
<line x1="649.74" y1="183.2" x2="649.74" y2="185.2" stroke="#000" stroke-width="0.8"/>
<line x1="654.18" y1="183.2" x2="654.18" y2="185.2" stroke="#000" stroke-width="0.8"/>
<line x1="658.11" y1="183.2" x2="658.11" y2="185.2" stroke="#000" stroke-width="0.8"/>
<line x1="661.61" y1="183.2" x2="661.61" y2="186.7" stroke="#000" stroke-width="0.8"/>
<text x="501" y="196.9" font-size="10" text-anchor="start" fill="#000" font-weight="normal" stroke="#000" stroke-width="0.1" >10</text>
<text x="512.5" y="193.5" font-size="7" text-anchor="start" fill="#000" font-weight="normal" stroke="#000" stroke-width="0.1" >0</text>
<text x="577.66" y="196.9" font-size="10" text-anchor="start" fill="#000" font-weight="normal" stroke="#000" stroke-width="0.1" >10</text>
<text x="589.16" y="193.5" font-size="7" text-anchor="start" fill="#000" font-weight="normal" stroke="#000" stroke-width="0.1" >1</text>
<text x="654.31" y="196.9" font-size="10" text-anchor="start" fill="#000" font-weight="normal" stroke="#000" stroke-width="0.1" >10</text>
<text x="665.81" y="193.5" font-size="7" text-anchor="start" fill="#000" font-weight="normal" stroke="#000" stroke-width="0.1" >2</text>
<text x="591.5" y="19" font-size="11" text-anchor="middle" fill="#000" font-weight="normal" textLength="102.3" lengthAdjust="spacingAndGlyphs" >ALIGNN leave-H-out</text>
<text x="614.4" y="91.5" font-size="9.9" text-anchor="start" fill="#2ca02c" font-weight="normal" textLength="41" lengthAdjust="spacingAndGlyphs" >OOD test</text>
<line x1="635" y1="79" x2="633.43" y2="73.35" stroke="#2ca02c" stroke-width="0.9"/>
<path d="M632.3,69.3 L635.35,72.81 L631.5,73.88 z" fill="#2ca02c"/>
<text x="631.8" y="144.2" font-size="9.9" text-anchor="start" fill="#ff7f0e" font-weight="normal" textLength="28" lengthAdjust="spacingAndGlyphs" >ID test</text>
<line x1="649.7" y1="146.4" x2="649.7" y2="151.4" stroke="#ff7f0e" stroke-width="0.9"/>
<path d="M649.7,155.6 L647.7,151.4 L651.7,151.4 z" fill="#ff7f0e"/>
<text x="599.2" y="179.6" font-size="9.9" text-anchor="start" fill="#1f77b4" font-weight="normal" textLength="21.2" lengthAdjust="spacingAndGlyphs" >Train</text>
<line x1="621" y1="175.7" x2="629.16" y2="171.52" stroke="#1f77b4" stroke-width="0.9"/>
<path d="M632.9,169.6 L630.07,173.3 L628.25,169.74 z" fill="#1f77b4"/>
<text x="596.4" y="210.2" font-size="9.5" text-anchor="middle" fill="#000" font-weight="normal" textLength="28.2" lengthAdjust="spacingAndGlyphs" stroke="#000" stroke-width="0.1" >Epoch</text>
<text x="0" y="0" font-size="9.5" text-anchor="middle" fill="#000" font-weight="normal" textLength="69" lengthAdjust="spacingAndGlyphs" stroke="#000" stroke-width="0.1" transform="translate(481.4,94.5) rotate(-90)">MAE (eV/atom)</text>
<text x="467" y="12.4" font-size="17" text-anchor="start" fill="#000" font-weight="bold" >c</text>
<path d="M38.8,249.7 L65.4,243.2 L85.9,238 L94.8,238 L121.1,238.9 L147.9,237.1 L172.3,234.5 L205.8,235.3" fill="none" stroke="#1f77b4" stroke-width="1.4" stroke-linejoin="round" stroke-linecap="butt" clip-path="url(#cd)" />
<path d="M39.2,276.6 L66,296.6 L85.8,300.5 L94.6,301.2 L121.1,271.8 L147.9,253.6 L172.3,239.7 L189.1,233.7 L205.8,229" fill="none" stroke="#ff7f0e" stroke-width="1.4" stroke-linejoin="round" stroke-linecap="butt" clip-path="url(#cd)" />
<path d="M38.2,289.3 L54.7,298.9 L76.8,313.9 L93.7,325 L132.8,352 L149.3,361.9 L171.6,375.1 L188.1,382.3 L204.9,389.7" fill="none" stroke="#8c564b" stroke-width="1.4" stroke-linejoin="round" stroke-linecap="butt" clip-path="url(#cd)" />
<path d="M39.2,280 L39.72,280.36 L40.24,280.71 L40.76,281.07 L41.28,281.43 L41.8,281.79 L42.31,282.14 L42.83,282.5 L43.35,282.86 L43.87,283.22 L44.39,283.58 L44.91,283.93 L45.43,284.29 L45.95,284.65 L46.47,285.01 L46.99,285.36 L47.5,285.72 L48.02,286.08 L48.54,286.43 L49.06,286.79 L49.58,287.14 L50.1,287.5 L50.61,287.85 L51.13,288.2 L51.64,288.55 L52.15,288.9 L52.67,289.25 L53.18,289.6 L53.7,289.95 L54.21,290.3 L54.72,290.65 L55.24,291 L55.75,291.34 L56.26,291.69 L56.78,292.04 L57.29,292.39 L57.8,292.74 L58.32,293.09 L58.83,293.44 L59.35,293.79 L59.86,294.14 L60.37,294.49 L60.89,294.85 L61.4,295.2 L61.91,295.55 L62.42,295.9 L62.93,296.25 L63.44,296.61 L63.95,296.96 L64.45,297.31 L64.96,297.67 L65.47,298.02 L65.98,298.37 L66.49,298.73 L67,299.08 L67.51,299.44 L68.02,299.79 L68.53,300.15 L69.04,300.5 L69.55,300.86 L70.05,301.22 L70.56,301.57 L71.07,301.93 L71.58,302.29 L72.09,302.64 L72.6,303 L73.12,303.37 L73.64,303.73 L74.16,304.1 L74.68,304.47 L75.21,304.84 L75.73,305.21 L76.25,305.58 L76.77,305.95 L77.29,306.33 L77.81,306.7 L78.33,307.07 L78.85,307.44 L79.37,307.81 L79.89,308.18 L80.42,308.54 L80.94,308.91 L81.46,309.27 L81.98,309.64 L82.5,310 L83.01,310.35 L83.52,310.7 L84.03,311.05 L84.54,311.39 L85.05,311.73 L85.55,312.07 L86.06,312.41 L86.57,312.75 L87.08,313.09 L87.59,313.43 L88.1,313.77 L88.61,314.11 L89.12,314.45 L89.63,314.79 L90.14,315.13 L90.65,315.48 L91.15,315.82 L91.66,316.17 L92.17,316.52 L92.68,316.88 L93.19,317.24 L93.7,317.6 L94.26,318 L94.81,318.41 L95.37,318.83 L95.93,319.24 L96.49,319.66 L97.04,320.08 L97.6,320.5 L98.11,320.88 L98.61,321.26 L99.12,321.64 L99.62,322.02 L100.13,322.4 L100.63,322.78 L101.14,323.16 L101.64,323.54 L102.15,323.92 L102.65,324.3 L103.16,324.68 L103.66,325.07 L104.17,325.45 L104.68,325.83 L105.18,326.21 L105.69,326.6 L106.19,326.98 L106.7,327.36 L107.2,327.74 L107.71,328.13 L108.21,328.51 L108.72,328.89 L109.22,329.27 L109.73,329.66 L110.24,330.04 L110.74,330.42 L111.25,330.8 L111.75,331.18 L112.26,331.57 L112.76,331.95 L113.27,332.33 L113.77,332.71 L114.28,333.09 L114.78,333.47 L115.29,333.84 L115.79,334.22 L116.3,334.6 L116.81,334.98 L117.32,335.36 L117.82,335.74 L118.33,336.13 L118.84,336.51 L119.35,336.89 L119.86,337.28 L120.36,337.66 L120.87,338.05 L121.38,338.43 L121.89,338.82 L122.4,339.2 L122.91,339.59 L123.41,339.98 L123.92,340.36 L124.43,340.74 L124.94,341.13 L125.45,341.51 L125.95,341.89 L126.46,342.27 L126.97,342.65 L127.48,343.03 L127.99,343.41 L128.49,343.79 L129,344.16 L129.51,344.53 L130.02,344.91 L130.53,345.28 L131.04,345.64 L131.54,346.01 L132.05,346.37 L132.56,346.73 L133.07,347.09 L133.58,347.45 L134.08,347.8 L134.59,348.15 L135.1,348.5 L135.61,348.85 L136.12,349.19 L136.62,349.53 L137.13,349.87 L137.64,350.21 L138.15,350.54 L138.66,350.87 L139.16,351.2 L139.67,351.53 L140.18,351.86 L140.69,352.19 L141.2,352.51 L141.71,352.84 L142.21,353.16 L142.72,353.48 L143.23,353.8 L143.74,354.12 L144.25,354.44 L144.75,354.75 L145.26,355.07 L145.77,355.39 L146.28,355.7 L146.79,356.01 L147.29,356.33 L147.8,356.64 L148.31,356.95 L148.82,357.27 L149.33,357.58 L149.84,357.89 L150.34,358.21 L150.85,358.52 L151.36,358.83 L151.87,359.14 L152.38,359.46 L152.88,359.77 L153.39,360.09 L153.9,360.4 L154.41,360.72 L154.93,361.03 L155.44,361.35 L155.96,361.66 L156.47,361.98 L156.99,362.29 L157.5,362.6 L158.01,362.92 L158.53,363.23 L159.04,363.54 L159.56,363.85 L160.07,364.17 L160.59,364.48 L161.1,364.8 L161.61,365.11 L162.11,365.43 L162.62,365.74 L163.12,366.06 L163.63,366.38 L164.14,366.7 L164.64,367.02 L165.15,367.34 L165.65,367.66 L166.16,367.98 L166.66,368.3 L167.17,368.63 L167.68,368.95 L168.18,369.28 L168.69,369.6 L169.19,369.93 L169.7,370.26 L170.21,370.58 L170.71,370.91 L171.22,371.23 L171.72,371.56 L172.23,371.89 L172.74,372.21 L173.24,372.54 L173.75,372.86 L174.25,373.19 L174.76,373.51 L175.26,373.83 L175.77,374.16 L176.28,374.48 L176.78,374.8 L177.29,375.12 L177.79,375.44 L178.3,375.76 L178.81,376.07 L179.31,376.39 L179.82,376.7 L180.32,377.01 L180.83,377.32 L181.34,377.63 L181.84,377.94 L182.35,378.24 L182.85,378.55 L183.36,378.85 L183.86,379.15 L184.37,379.45 L184.88,379.74 L185.38,380.04 L185.89,380.33 L186.39,380.61 L186.9,380.9 L187.4,381.18 L187.9,381.46 L188.4,381.73 L188.9,382.01 L189.4,382.28 L189.9,382.54 L190.4,382.81 L190.9,383.08 L191.4,383.34 L191.9,383.6 L192.4,383.86 L192.9,384.12 L193.4,384.38 L193.9,384.64 L194.4,384.89 L194.9,385.15 L195.4,385.4 L195.9,385.65 L196.4,385.9 L196.9,386.16 L197.4,386.41 L197.9,386.66 L198.4,386.91 L198.9,387.16 L199.4,387.41 L199.9,387.66 L200.4,387.91 L200.9,388.16 L201.4,388.42 L201.9,388.67 L202.4,388.92 L202.9,389.18 L203.4,389.43 L203.9,389.69 L204.4,389.94 L204.9,390.2" fill="none" stroke="#000" stroke-width="1.4" stroke-linejoin="round" stroke-linecap="butt" clip-path="url(#cd)" stroke-dasharray="4.5,2.4"/>
<line x1="38.8" y1="245.5" x2="38.8" y2="254.6" stroke="#1f77b4" stroke-width="1.2"/>
<line x1="65.4" y1="239" x2="65.4" y2="247.5" stroke="#1f77b4" stroke-width="1.2"/>
<line x1="85.9" y1="238" x2="85.9" y2="238" stroke="#1f77b4" stroke-width="1.2"/>
<line x1="94.8" y1="233.5" x2="94.8" y2="242.5" stroke="#1f77b4" stroke-width="1.2"/>
<line x1="121.1" y1="238.9" x2="121.1" y2="238.9" stroke="#1f77b4" stroke-width="1.2"/>
<line x1="147.9" y1="237.1" x2="147.9" y2="237.1" stroke="#1f77b4" stroke-width="1.2"/>
<line x1="172.3" y1="234.5" x2="172.3" y2="234.5" stroke="#1f77b4" stroke-width="1.2"/>
<line x1="205.8" y1="235.3" x2="205.8" y2="235.3" stroke="#1f77b4" stroke-width="1.2"/>
<line x1="39.2" y1="269.9" x2="39.2" y2="284.9" stroke="#ff7f0e" stroke-width="1.2"/>
<line x1="66" y1="292.4" x2="66" y2="300.8" stroke="#ff7f0e" stroke-width="1.2"/>
<line x1="85.8" y1="296.2" x2="85.8" y2="305.7" stroke="#ff7f0e" stroke-width="1.2"/>
<line x1="94.6" y1="295.4" x2="94.6" y2="308.3" stroke="#ff7f0e" stroke-width="1.2"/>
<line x1="121.1" y1="260.7" x2="121.1" y2="287.7" stroke="#ff7f0e" stroke-width="1.2"/>
<line x1="147.9" y1="245.1" x2="147.9" y2="265.5" stroke="#ff7f0e" stroke-width="1.2"/>
<line x1="172.3" y1="236" x2="172.3" y2="244.5" stroke="#ff7f0e" stroke-width="1.2"/>
<line x1="189.1" y1="224.8" x2="189.1" y2="245.1" stroke="#ff7f0e" stroke-width="1.2"/>
<line x1="205.8" y1="229" x2="205.8" y2="229" stroke="#ff7f0e" stroke-width="1.2"/>
<line x1="38.2" y1="284" x2="38.2" y2="296.2" stroke="#8c564b" stroke-width="1.2"/>
<line x1="54.7" y1="292.4" x2="54.7" y2="306.6" stroke="#8c564b" stroke-width="1.2"/>
<line x1="76.8" y1="313.9" x2="76.8" y2="313.9" stroke="#8c564b" stroke-width="1.2"/>
<line x1="93.7" y1="325" x2="93.7" y2="325" stroke="#8c564b" stroke-width="1.2"/>
<line x1="132.8" y1="352" x2="132.8" y2="352" stroke="#8c564b" stroke-width="1.2"/>
<line x1="149.3" y1="361.9" x2="149.3" y2="361.9" stroke="#8c564b" stroke-width="1.2"/>
<line x1="171.6" y1="375.1" x2="171.6" y2="375.1" stroke="#8c564b" stroke-width="1.2"/>
<line x1="188.1" y1="382.3" x2="188.1" y2="382.3" stroke="#8c564b" stroke-width="1.2"/>
<line x1="204.9" y1="389.7" x2="204.9" y2="389.7" stroke="#8c564b" stroke-width="1.2"/>
<circle cx="38.8" cy="249.7" r="3.1" fill="#fff" stroke="#1f77b4" stroke-width="1.2"/>
<circle cx="65.4" cy="243.2" r="3.1" fill="#fff" stroke="#1f77b4" stroke-width="1.2"/>
<circle cx="85.9" cy="238" r="3.1" fill="#fff" stroke="#1f77b4" stroke-width="1.2"/>
<circle cx="94.8" cy="238" r="3.1" fill="#fff" stroke="#1f77b4" stroke-width="1.2"/>
<circle cx="121.1" cy="238.9" r="3.1" fill="#fff" stroke="#1f77b4" stroke-width="1.2"/>
<circle cx="147.9" cy="237.1" r="3.1" fill="#fff" stroke="#1f77b4" stroke-width="1.2"/>
<circle cx="172.3" cy="234.5" r="3.1" fill="#fff" stroke="#1f77b4" stroke-width="1.2"/>
<circle cx="205.8" cy="235.3" r="3.1" fill="#fff" stroke="#1f77b4" stroke-width="1.2"/>
<rect x="36.05" y="273.45" width="6.3" height="6.3" fill="#fff" stroke="#ff7f0e" stroke-width="1.2"/>
<rect x="62.85" y="293.45" width="6.3" height="6.3" fill="#fff" stroke="#ff7f0e" stroke-width="1.2"/>
<rect x="82.65" y="297.35" width="6.3" height="6.3" fill="#fff" stroke="#ff7f0e" stroke-width="1.2"/>
<rect x="91.45" y="298.05" width="6.3" height="6.3" fill="#fff" stroke="#ff7f0e" stroke-width="1.2"/>
<rect x="117.95" y="268.65" width="6.3" height="6.3" fill="#fff" stroke="#ff7f0e" stroke-width="1.2"/>
<rect x="144.75" y="250.45" width="6.3" height="6.3" fill="#fff" stroke="#ff7f0e" stroke-width="1.2"/>
<rect x="169.15" y="236.55" width="6.3" height="6.3" fill="#fff" stroke="#ff7f0e" stroke-width="1.2"/>
<rect x="185.95" y="230.55" width="6.3" height="6.3" fill="#fff" stroke="#ff7f0e" stroke-width="1.2"/>
<rect x="202.65" y="225.85" width="6.3" height="6.3" fill="#fff" stroke="#ff7f0e" stroke-width="1.2"/>
<path d="M38.2,286.3 L41.2,292.3 L35.2,292.3 z" fill="#fff" stroke="#8c564b" stroke-width="1.15" stroke-linejoin="miter"/>
<path d="M54.7,295.9 L57.7,301.9 L51.7,301.9 z" fill="#fff" stroke="#8c564b" stroke-width="1.15" stroke-linejoin="miter"/>
<path d="M76.8,310.9 L79.8,316.9 L73.8,316.9 z" fill="#fff" stroke="#8c564b" stroke-width="1.15" stroke-linejoin="miter"/>
<path d="M93.7,322 L96.7,328 L90.7,328 z" fill="#fff" stroke="#8c564b" stroke-width="1.15" stroke-linejoin="miter"/>
<path d="M132.8,349 L135.8,355 L129.8,355 z" fill="#fff" stroke="#8c564b" stroke-width="1.15" stroke-linejoin="miter"/>
<path d="M149.3,358.9 L152.3,364.9 L146.3,364.9 z" fill="#fff" stroke="#8c564b" stroke-width="1.15" stroke-linejoin="miter"/>
<path d="M171.6,372.1 L174.6,378.1 L168.6,378.1 z" fill="#fff" stroke="#8c564b" stroke-width="1.15" stroke-linejoin="miter"/>
<path d="M188.1,379.3 L191.1,385.3 L185.1,385.3 z" fill="#fff" stroke="#8c564b" stroke-width="1.15" stroke-linejoin="miter"/>
<path d="M204.9,386.7 L207.9,392.7 L201.9,392.7 z" fill="#fff" stroke="#8c564b" stroke-width="1.15" stroke-linejoin="miter"/>
<rect x="34.5" y="218.5" width="186.5" height="177.9" fill="none" stroke="#000" stroke-width="0.8"/>
<line x1="32.5" y1="384.5" x2="34.5" y2="384.5" stroke="#000" stroke-width="0.8"/>
<line x1="32.5" y1="375" x2="34.5" y2="375" stroke="#000" stroke-width="0.8"/>
<line x1="32.5" y1="367.24" x2="34.5" y2="367.24" stroke="#000" stroke-width="0.8"/>
<line x1="32.5" y1="360.68" x2="34.5" y2="360.68" stroke="#000" stroke-width="0.8"/>
<line x1="32.5" y1="355" x2="34.5" y2="355" stroke="#000" stroke-width="0.8"/>
<line x1="32.5" y1="349.98" x2="34.5" y2="349.98" stroke="#000" stroke-width="0.8"/>
<line x1="32.5" y1="316" x2="34.5" y2="316" stroke="#000" stroke-width="0.8"/>
<line x1="32.5" y1="298.74" x2="34.5" y2="298.74" stroke="#000" stroke-width="0.8"/>
<line x1="32.5" y1="286.5" x2="34.5" y2="286.5" stroke="#000" stroke-width="0.8"/>
<line x1="32.5" y1="277" x2="34.5" y2="277" stroke="#000" stroke-width="0.8"/>
<line x1="32.5" y1="269.24" x2="34.5" y2="269.24" stroke="#000" stroke-width="0.8"/>
<line x1="32.5" y1="262.68" x2="34.5" y2="262.68" stroke="#000" stroke-width="0.8"/>
<line x1="32.5" y1="257" x2="34.5" y2="257" stroke="#000" stroke-width="0.8"/>
<line x1="32.5" y1="251.98" x2="34.5" y2="251.98" stroke="#000" stroke-width="0.8"/>
<line x1="31" y1="247.5" x2="34.5" y2="247.5" stroke="#000" stroke-width="0.8"/>
<text x="28" y="250.85" font-size="10" text-anchor="end" fill="#000" font-weight="normal" stroke="#000" stroke-width="0.1" >1.0</text>
<line x1="31" y1="345.5" x2="34.5" y2="345.5" stroke="#000" stroke-width="0.8"/>
<text x="28" y="348.85" font-size="10" text-anchor="end" fill="#000" font-weight="normal" stroke="#000" stroke-width="0.1" >0.1</text>
<line x1="34.85" y1="396.4" x2="34.85" y2="398.4" stroke="#000" stroke-width="0.8"/>
<line x1="37.4" y1="396.4" x2="37.4" y2="399.9" stroke="#000" stroke-width="0.8"/>
<line x1="54.21" y1="396.4" x2="54.21" y2="398.4" stroke="#000" stroke-width="0.8"/>
<line x1="64.04" y1="396.4" x2="64.04" y2="398.4" stroke="#000" stroke-width="0.8"/>
<line x1="71.01" y1="396.4" x2="71.01" y2="398.4" stroke="#000" stroke-width="0.8"/>
<line x1="76.43" y1="396.4" x2="76.43" y2="398.4" stroke="#000" stroke-width="0.8"/>
<line x1="80.85" y1="396.4" x2="80.85" y2="398.4" stroke="#000" stroke-width="0.8"/>
<line x1="84.58" y1="396.4" x2="84.58" y2="398.4" stroke="#000" stroke-width="0.8"/>
<line x1="87.82" y1="396.4" x2="87.82" y2="398.4" stroke="#000" stroke-width="0.8"/>
<line x1="90.68" y1="396.4" x2="90.68" y2="398.4" stroke="#000" stroke-width="0.8"/>
<line x1="93.23" y1="396.4" x2="93.23" y2="399.9" stroke="#000" stroke-width="0.8"/>
<line x1="110.04" y1="396.4" x2="110.04" y2="398.4" stroke="#000" stroke-width="0.8"/>
<line x1="119.87" y1="396.4" x2="119.87" y2="398.4" stroke="#000" stroke-width="0.8"/>
<line x1="126.84" y1="396.4" x2="126.84" y2="398.4" stroke="#000" stroke-width="0.8"/>
<line x1="132.25" y1="396.4" x2="132.25" y2="398.4" stroke="#000" stroke-width="0.8"/>
<line x1="136.68" y1="396.4" x2="136.68" y2="398.4" stroke="#000" stroke-width="0.8"/>
<line x1="140.41" y1="396.4" x2="140.41" y2="398.4" stroke="#000" stroke-width="0.8"/>
<line x1="143.65" y1="396.4" x2="143.65" y2="398.4" stroke="#000" stroke-width="0.8"/>
<line x1="146.51" y1="396.4" x2="146.51" y2="398.4" stroke="#000" stroke-width="0.8"/>
<line x1="149.06" y1="396.4" x2="149.06" y2="399.9" stroke="#000" stroke-width="0.8"/>
<line x1="165.87" y1="396.4" x2="165.87" y2="398.4" stroke="#000" stroke-width="0.8"/>
<line x1="175.7" y1="396.4" x2="175.7" y2="398.4" stroke="#000" stroke-width="0.8"/>
<line x1="182.67" y1="396.4" x2="182.67" y2="398.4" stroke="#000" stroke-width="0.8"/>
<line x1="188.08" y1="396.4" x2="188.08" y2="398.4" stroke="#000" stroke-width="0.8"/>
<line x1="192.51" y1="396.4" x2="192.51" y2="398.4" stroke="#000" stroke-width="0.8"/>
<line x1="196.24" y1="396.4" x2="196.24" y2="398.4" stroke="#000" stroke-width="0.8"/>
<line x1="199.48" y1="396.4" x2="199.48" y2="398.4" stroke="#000" stroke-width="0.8"/>
<line x1="202.34" y1="396.4" x2="202.34" y2="398.4" stroke="#000" stroke-width="0.8"/>
<line x1="204.89" y1="396.4" x2="204.89" y2="399.9" stroke="#000" stroke-width="0.8"/>
<text x="30.1" y="410.1" font-size="10" text-anchor="start" fill="#000" font-weight="normal" stroke="#000" stroke-width="0.1" >10</text>
<text x="41.6" y="406.7" font-size="7" text-anchor="start" fill="#000" font-weight="normal" stroke="#000" stroke-width="0.1" >2</text>
<text x="85.93" y="410.1" font-size="10" text-anchor="start" fill="#000" font-weight="normal" stroke="#000" stroke-width="0.1" >10</text>
<text x="97.43" y="406.7" font-size="7" text-anchor="start" fill="#000" font-weight="normal" stroke="#000" stroke-width="0.1" >3</text>
<text x="141.76" y="410.1" font-size="10" text-anchor="start" fill="#000" font-weight="normal" stroke="#000" stroke-width="0.1" >10</text>
<text x="153.26" y="406.7" font-size="7" text-anchor="start" fill="#000" font-weight="normal" stroke="#000" stroke-width="0.1" >4</text>
<text x="197.59" y="410.1" font-size="10" text-anchor="start" fill="#000" font-weight="normal" stroke="#000" stroke-width="0.1" >10</text>
<text x="209.09" y="406.7" font-size="7" text-anchor="start" fill="#000" font-weight="normal" stroke="#000" stroke-width="0.1" >5</text>
<text x="126.5" y="323.4" font-size="9.5" text-anchor="start" fill="#000" font-weight="normal" textLength="29.4" lengthAdjust="spacingAndGlyphs" >ID test</text>
<line x1="127" y1="323.4" x2="121.24" y2="328.13" stroke="#000" stroke-width="0.9"/>
<path d="M118,330.8 L119.97,326.59 L122.51,329.68 z" fill="#000"/>
<line x1="39.4" y1="358.6" x2="53.7" y2="358.6" stroke="#1f77b4" stroke-width="1.4"/>
<line x1="46.6" y1="353.6" x2="46.6" y2="363.6" stroke="#1f77b4" stroke-width="1.2"/>
<circle cx="46.6" cy="358.6" r="3.1" fill="#fff" stroke="#1f77b4" stroke-width="1.2"/>
<line x1="39.4" y1="372.4" x2="53.7" y2="372.4" stroke="#ff7f0e" stroke-width="1.4"/>
<line x1="46.6" y1="367.4" x2="46.6" y2="377.4" stroke="#ff7f0e" stroke-width="1.2"/>
<rect x="43.45" y="369.25" width="6.3" height="6.3" fill="#fff" stroke="#ff7f0e" stroke-width="1.2"/>
<line x1="39.4" y1="385.9" x2="53.7" y2="385.9" stroke="#8c564b" stroke-width="1.4"/>
<line x1="46.6" y1="380.9" x2="46.6" y2="390.9" stroke="#8c564b" stroke-width="1.2"/>
<path d="M46.6,382.9 L49.6,388.9 L43.6,388.9 z" fill="#fff" stroke="#8c564b" stroke-width="1.15" stroke-linejoin="miter"/>
<text x="56.5" y="361.9" font-size="9.5" text-anchor="start" fill="#000" font-weight="normal" stroke="#000" stroke-width="0.1" >F</text>
<text x="56.5" y="375.7" font-size="9.5" text-anchor="start" fill="#000" font-weight="normal" stroke="#000" stroke-width="0.1" >H</text>
<text x="58.4" y="389.3" font-size="9.5" text-anchor="start" fill="#000" font-weight="normal" textLength="59.6" lengthAdjust="spacingAndGlyphs" stroke="#000" stroke-width="0.1" >≥ 5 elements</text>
<text x="127.8" y="422.7" font-size="9.5" text-anchor="middle" fill="#000" font-weight="normal" textLength="109" lengthAdjust="spacingAndGlyphs" stroke="#000" stroke-width="0.1" >Number of training data</text>
<text x="0" y="0" font-size="9.5" text-anchor="middle" fill="#000" font-weight="normal" textLength="69" lengthAdjust="spacingAndGlyphs" stroke="#000" stroke-width="0.1" transform="translate(9.8,307.7) rotate(-90)">MAE (eV/atom)</text>
<text x="-0.7" y="231" font-size="17" text-anchor="start" fill="#000" font-weight="bold" >d</text>
<path d="M284.8,229.9 L304.5,231.2 L325.5,226 L345.2,226 L366.6,225.5 L386.3,231.1 L407.3,229.5 L428.9,228.1 L452.6,228.8" fill="none" stroke="#1f77b4" stroke-width="1.4" stroke-linejoin="round" stroke-linecap="butt" clip-path="url(#ce)" />
<path d="M284.8,266.8 L304.5,270.9 L325.5,275.2 L345.2,280.1 L366.5,283 L386.3,281.3 L407.3,271 L429.1,247.4 L436.1,239.2 L444.3,235.8 L448.3,224.9" fill="none" stroke="#ff7f0e" stroke-width="1.4" stroke-linejoin="round" stroke-linecap="butt" clip-path="url(#ce)" />
<path d="M284.8,263.5 L304.5,282.1 L325.9,296 L366.5,330.9 L386.1,353 L407.4,366.2 L428.8,377.1" fill="none" stroke="#8c564b" stroke-width="1.4" stroke-linejoin="round" stroke-linecap="butt" clip-path="url(#ce)" />
<path d="M284.8,266.3 L285.31,266.62 L285.83,266.94 L286.34,267.27 L286.85,267.59 L287.37,267.92 L287.88,268.25 L288.4,268.58 L288.91,268.91 L289.42,269.24 L289.94,269.57 L290.45,269.9 L290.96,270.22 L291.48,270.55 L291.99,270.87 L292.5,271.19 L293.02,271.5 L293.53,271.81 L294.05,272.12 L294.56,272.42 L295.07,272.72 L295.59,273.01 L296.1,273.3 L296.62,273.58 L297.15,273.86 L297.68,274.13 L298.2,274.39 L298.73,274.64 L299.25,274.89 L299.78,275.14 L300.3,275.39 L300.82,275.64 L301.35,275.89 L301.88,276.14 L302.4,276.4 L302.93,276.66 L303.45,276.93 L303.98,277.21 L304.5,277.5 L305.02,277.8 L305.54,278.1 L306.06,278.42 L306.58,278.74 L307.11,279.07 L307.63,279.4 L308.15,279.74 L308.67,280.08 L309.19,280.43 L309.71,280.78 L310.23,281.13 L310.75,281.48 L311.27,281.83 L311.79,282.18 L312.32,282.53 L312.84,282.88 L313.36,283.22 L313.88,283.56 L314.4,283.9 L314.92,284.23 L315.44,284.57 L315.96,284.9 L316.48,285.23 L317.01,285.56 L317.53,285.89 L318.05,286.22 L318.57,286.54 L319.09,286.87 L319.61,287.2 L320.13,287.53 L320.65,287.86 L321.17,288.19 L321.69,288.52 L322.22,288.86 L322.74,289.19 L323.26,289.52 L323.78,289.86 L324.3,290.2 L324.82,290.54 L325.35,290.88 L325.88,291.22 L326.4,291.56 L326.93,291.91 L327.45,292.25 L327.98,292.59 L328.5,292.94 L329.02,293.28 L329.55,293.63 L330.07,293.99 L330.6,294.34 L331.12,294.7 L331.65,295.06 L332.18,295.43 L332.7,295.8 L333.22,296.17 L333.73,296.55 L334.25,296.94 L334.77,297.34 L335.28,297.74 L335.8,298.15 L336.32,298.56 L336.83,298.97 L337.35,299.38 L337.87,299.79 L338.38,300.2 L338.9,300.6 L339.42,301 L339.93,301.4 L340.45,301.79 L340.97,302.17 L341.48,302.54 L342,302.9 L342.5,303.24 L343.01,303.58 L343.51,303.9 L344.02,304.23 L344.52,304.54 L345.02,304.85 L345.53,305.16 L346.03,305.46 L346.54,305.76 L347.04,306.06 L347.55,306.36 L348.05,306.65 L348.55,306.95 L349.06,307.24 L349.56,307.54 L350.07,307.84 L350.57,308.14 L351.08,308.45 L351.58,308.76 L352.08,309.08 L352.59,309.4 L353.09,309.72 L353.6,310.06 L354.1,310.4 L354.6,310.75 L355.11,311.1 L355.61,311.46 L356.11,311.82 L356.62,312.19 L357.12,312.57 L357.62,312.94 L358.13,313.32 L358.63,313.71 L359.14,314.09 L359.64,314.49 L360.14,314.88 L360.65,315.27 L361.15,315.67 L361.65,316.07 L362.16,316.47 L362.66,316.87 L363.16,317.28 L363.67,317.68 L364.17,318.08 L364.68,318.49 L365.18,318.89 L365.68,319.3 L366.19,319.7 L366.69,320.1 L367.19,320.5 L367.7,320.9 L368.2,321.3 L368.7,321.69 L369.2,322.09 L369.7,322.48 L370.2,322.88 L370.7,323.28 L371.2,323.68 L371.7,324.08 L372.2,324.48 L372.7,324.88 L373.2,325.28 L373.7,325.68 L374.2,326.09 L374.7,326.49 L375.2,326.9 L375.71,327.32 L376.21,327.73 L376.72,328.15 L377.23,328.58 L377.74,329 L378.24,329.42 L378.75,329.85 L379.26,330.28 L379.76,330.7 L380.27,331.12 L380.78,331.55 L381.29,331.97 L381.79,332.38 L382.3,332.8 L382.8,333.21 L383.3,333.61 L383.8,334.02 L384.3,334.43 L384.8,334.83 L385.3,335.23 L385.8,335.64 L386.3,336.04 L386.8,336.44 L387.3,336.83 L387.8,337.23 L388.3,337.62 L388.8,338.01 L389.3,338.4 L389.83,338.81 L390.37,339.22 L390.9,339.62 L391.43,340.02 L391.97,340.42 L392.5,340.82 L393.03,341.21 L393.57,341.61 L394.1,342 L394.63,342.4 L395.17,342.8 L395.7,343.2 L396.22,343.59 L396.74,343.99 L397.26,344.39 L397.78,344.79 L398.3,345.19 L398.82,345.59 L399.34,345.99 L399.86,346.39 L400.38,346.79 L400.9,347.19 L401.42,347.58 L401.94,347.97 L402.46,348.35 L402.98,348.73 L403.5,349.1 L404.02,349.47 L404.55,349.84 L405.07,350.21 L405.6,350.57 L406.12,350.93 L406.65,351.29 L407.18,351.64 L407.7,352 L408.22,352.34 L408.75,352.69 L409.27,353.03 L409.8,353.37 L410.32,353.71 L410.85,354.04 L411.38,354.37 L411.9,354.7 L412.4,355.01 L412.9,355.31 L413.4,355.61 L413.9,355.91 L414.4,356.21 L414.9,356.51 L415.4,356.8 L415.9,357.09 L416.4,357.37 L416.9,357.66 L417.4,357.94 L417.9,358.22 L418.4,358.5 L418.9,358.78 L419.4,359.05 L419.9,359.33 L420.4,359.6 L420.92,359.88 L421.45,360.17 L421.97,360.45 L422.5,360.72 L423.02,361 L423.55,361.28 L424.07,361.55 L424.6,361.82 L425.12,362.09 L425.65,362.35 L426.18,362.62 L426.7,362.88 L427.23,363.14 L427.75,363.39 L428.28,363.65 L428.8,363.9 L429.3,364.14 L429.8,364.37 L430.3,364.6 L430.8,364.83 L431.3,365.06 L431.8,365.28 L432.3,365.5 L432.8,365.72 L433.3,365.94 L433.8,366.16 L434.3,366.38 L434.8,366.6 L435.3,366.82 L435.8,367.04 L436.3,367.26 L436.8,367.48 L437.3,367.7 L437.81,367.93 L438.32,368.15 L438.83,368.38 L439.34,368.61 L439.85,368.84 L440.35,369.06 L440.86,369.29 L441.37,369.52 L441.88,369.75 L442.39,369.97 L442.9,370.2 L443.41,370.43 L443.92,370.65 L444.43,370.88 L444.94,371.11 L445.45,371.34 L445.95,371.56 L446.46,371.79 L446.97,372.02 L447.48,372.25 L447.99,372.47 L448.5,372.7" fill="none" stroke="#000" stroke-width="1.4" stroke-linejoin="round" stroke-linecap="butt" clip-path="url(#ce)" stroke-dasharray="4.5,2.4"/>
<line x1="284.8" y1="225.8" x2="284.8" y2="234.5" stroke="#1f77b4" stroke-width="1.2"/>
<line x1="304.5" y1="226.9" x2="304.5" y2="236.1" stroke="#1f77b4" stroke-width="1.2"/>
<line x1="325.5" y1="226" x2="325.5" y2="226" stroke="#1f77b4" stroke-width="1.2"/>
<line x1="345.2" y1="226" x2="345.2" y2="226" stroke="#1f77b4" stroke-width="1.2"/>
<line x1="366.6" y1="225.5" x2="366.6" y2="225.5" stroke="#1f77b4" stroke-width="1.2"/>
<line x1="386.3" y1="231.1" x2="386.3" y2="231.1" stroke="#1f77b4" stroke-width="1.2"/>
<line x1="407.3" y1="229.5" x2="407.3" y2="229.5" stroke="#1f77b4" stroke-width="1.2"/>
<line x1="428.9" y1="228.1" x2="428.9" y2="228.1" stroke="#1f77b4" stroke-width="1.2"/>
<line x1="452.6" y1="228.8" x2="452.6" y2="228.8" stroke="#1f77b4" stroke-width="1.2"/>
<line x1="284.8" y1="261" x2="284.8" y2="272.3" stroke="#ff7f0e" stroke-width="1.2"/>
<line x1="304.5" y1="270.9" x2="304.5" y2="270.9" stroke="#ff7f0e" stroke-width="1.2"/>
<line x1="325.5" y1="275.2" x2="325.5" y2="275.2" stroke="#ff7f0e" stroke-width="1.2"/>
<line x1="345.2" y1="280.1" x2="345.2" y2="280.1" stroke="#ff7f0e" stroke-width="1.2"/>
<line x1="366.5" y1="283" x2="366.5" y2="283" stroke="#ff7f0e" stroke-width="1.2"/>
<line x1="386.3" y1="281.3" x2="386.3" y2="281.3" stroke="#ff7f0e" stroke-width="1.2"/>
<line x1="407.3" y1="271" x2="407.3" y2="271" stroke="#ff7f0e" stroke-width="1.2"/>
<line x1="429.1" y1="247.4" x2="429.1" y2="247.4" stroke="#ff7f0e" stroke-width="1.2"/>
<line x1="436.1" y1="239.2" x2="436.1" y2="239.2" stroke="#ff7f0e" stroke-width="1.2"/>
<line x1="444.3" y1="235.8" x2="444.3" y2="235.8" stroke="#ff7f0e" stroke-width="1.2"/>
<line x1="448.3" y1="224.9" x2="448.3" y2="224.9" stroke="#ff7f0e" stroke-width="1.2"/>
<line x1="284.8" y1="259.4" x2="284.8" y2="266.5" stroke="#8c564b" stroke-width="1.2"/>
<line x1="304.5" y1="282.1" x2="304.5" y2="282.1" stroke="#8c564b" stroke-width="1.2"/>
<line x1="325.9" y1="296" x2="325.9" y2="296" stroke="#8c564b" stroke-width="1.2"/>
<line x1="366.5" y1="330.9" x2="366.5" y2="330.9" stroke="#8c564b" stroke-width="1.2"/>
<line x1="386.1" y1="353" x2="386.1" y2="353" stroke="#8c564b" stroke-width="1.2"/>
<line x1="407.4" y1="366.2" x2="407.4" y2="366.2" stroke="#8c564b" stroke-width="1.2"/>
<line x1="428.8" y1="377.1" x2="428.8" y2="377.1" stroke="#8c564b" stroke-width="1.2"/>
<g clip-path="url(#ce)">
<circle cx="284.8" cy="229.9" r="3.1" fill="#fff" stroke="#1f77b4" stroke-width="1.2"/>
<circle cx="304.5" cy="231.2" r="3.1" fill="#fff" stroke="#1f77b4" stroke-width="1.2"/>
<circle cx="325.5" cy="226" r="3.1" fill="#fff" stroke="#1f77b4" stroke-width="1.2"/>
<circle cx="345.2" cy="226" r="3.1" fill="#fff" stroke="#1f77b4" stroke-width="1.2"/>
<circle cx="366.6" cy="225.5" r="3.1" fill="#fff" stroke="#1f77b4" stroke-width="1.2"/>
<circle cx="386.3" cy="231.1" r="3.1" fill="#fff" stroke="#1f77b4" stroke-width="1.2"/>
<circle cx="407.3" cy="229.5" r="3.1" fill="#fff" stroke="#1f77b4" stroke-width="1.2"/>
<circle cx="428.9" cy="228.1" r="3.1" fill="#fff" stroke="#1f77b4" stroke-width="1.2"/>
<rect x="281.65" y="263.65" width="6.3" height="6.3" fill="#fff" stroke="#ff7f0e" stroke-width="1.2"/>
<rect x="301.35" y="267.75" width="6.3" height="6.3" fill="#fff" stroke="#ff7f0e" stroke-width="1.2"/>
<rect x="322.35" y="272.05" width="6.3" height="6.3" fill="#fff" stroke="#ff7f0e" stroke-width="1.2"/>
<rect x="342.05" y="276.95" width="6.3" height="6.3" fill="#fff" stroke="#ff7f0e" stroke-width="1.2"/>
<rect x="363.35" y="279.85" width="6.3" height="6.3" fill="#fff" stroke="#ff7f0e" stroke-width="1.2"/>
<rect x="383.15" y="278.15" width="6.3" height="6.3" fill="#fff" stroke="#ff7f0e" stroke-width="1.2"/>
<rect x="404.15" y="267.85" width="6.3" height="6.3" fill="#fff" stroke="#ff7f0e" stroke-width="1.2"/>
<rect x="425.95" y="244.25" width="6.3" height="6.3" fill="#fff" stroke="#ff7f0e" stroke-width="1.2"/>
<rect x="432.95" y="236.05" width="6.3" height="6.3" fill="#fff" stroke="#ff7f0e" stroke-width="1.2"/>
<rect x="441.15" y="232.65" width="6.3" height="6.3" fill="#fff" stroke="#ff7f0e" stroke-width="1.2"/>
<rect x="445.15" y="221.75" width="6.3" height="6.3" fill="#fff" stroke="#ff7f0e" stroke-width="1.2"/>
<path d="M284.8,260.5 L287.8,266.5 L281.8,266.5 z" fill="#fff" stroke="#8c564b" stroke-width="1.15" stroke-linejoin="miter"/>
<path d="M304.5,279.1 L307.5,285.1 L301.5,285.1 z" fill="#fff" stroke="#8c564b" stroke-width="1.15" stroke-linejoin="miter"/>
<path d="M325.9,293 L328.9,299 L322.9,299 z" fill="#fff" stroke="#8c564b" stroke-width="1.15" stroke-linejoin="miter"/>
<path d="M366.5,327.9 L369.5,333.9 L363.5,333.9 z" fill="#fff" stroke="#8c564b" stroke-width="1.15" stroke-linejoin="miter"/>
<path d="M386.1,350 L389.1,356 L383.1,356 z" fill="#fff" stroke="#8c564b" stroke-width="1.15" stroke-linejoin="miter"/>
<path d="M407.4,363.2 L410.4,369.2 L404.4,369.2 z" fill="#fff" stroke="#8c564b" stroke-width="1.15" stroke-linejoin="miter"/>
<path d="M428.8,374.1 L431.8,380.1 L425.8,380.1 z" fill="#fff" stroke="#8c564b" stroke-width="1.15" stroke-linejoin="miter"/>
</g>
<rect x="280.1" y="218.5" width="172.3" height="177.9" fill="none" stroke="#000" stroke-width="0.8"/>
<line x1="278.1" y1="373.18" x2="280.1" y2="373.18" stroke="#000" stroke-width="0.8"/>
<line x1="278.1" y1="359.59" x2="280.1" y2="359.59" stroke="#000" stroke-width="0.8"/>
<line x1="278.1" y1="349.95" x2="280.1" y2="349.95" stroke="#000" stroke-width="0.8"/>
<line x1="278.1" y1="342.47" x2="280.1" y2="342.47" stroke="#000" stroke-width="0.8"/>
<line x1="278.1" y1="336.37" x2="280.1" y2="336.37" stroke="#000" stroke-width="0.8"/>
<line x1="278.1" y1="331.2" x2="280.1" y2="331.2" stroke="#000" stroke-width="0.8"/>
<line x1="278.1" y1="326.73" x2="280.1" y2="326.73" stroke="#000" stroke-width="0.8"/>
<line x1="278.1" y1="322.78" x2="280.1" y2="322.78" stroke="#000" stroke-width="0.8"/>
<line x1="278.1" y1="296.03" x2="280.1" y2="296.03" stroke="#000" stroke-width="0.8"/>
<line x1="278.1" y1="282.44" x2="280.1" y2="282.44" stroke="#000" stroke-width="0.8"/>
<line x1="278.1" y1="272.8" x2="280.1" y2="272.8" stroke="#000" stroke-width="0.8"/>
<line x1="278.1" y1="265.32" x2="280.1" y2="265.32" stroke="#000" stroke-width="0.8"/>
<line x1="278.1" y1="259.22" x2="280.1" y2="259.22" stroke="#000" stroke-width="0.8"/>
<line x1="278.1" y1="254.05" x2="280.1" y2="254.05" stroke="#000" stroke-width="0.8"/>
<line x1="278.1" y1="249.58" x2="280.1" y2="249.58" stroke="#000" stroke-width="0.8"/>
<line x1="278.1" y1="245.63" x2="280.1" y2="245.63" stroke="#000" stroke-width="0.8"/>
<line x1="278.1" y1="218.88" x2="280.1" y2="218.88" stroke="#000" stroke-width="0.8"/>
<line x1="276.6" y1="242.1" x2="280.1" y2="242.1" stroke="#000" stroke-width="0.8"/>
<text x="273.6" y="245.45" font-size="10" text-anchor="end" fill="#000" font-weight="normal" stroke="#000" stroke-width="0.1" >1.0</text>
<line x1="276.6" y1="319.25" x2="280.1" y2="319.25" stroke="#000" stroke-width="0.8"/>
<text x="273.6" y="322.6" font-size="10" text-anchor="end" fill="#000" font-weight="normal" stroke="#000" stroke-width="0.1" >0.1</text>
<line x1="276.6" y1="396.4" x2="280.1" y2="396.4" stroke="#000" stroke-width="0.8"/>
<text x="273.6" y="399.75" font-size="10" text-anchor="end" fill="#000" font-weight="normal" stroke="#000" stroke-width="0.1" >0.01</text>
<line x1="282.46" y1="396.4" x2="282.46" y2="398.4" stroke="#000" stroke-width="0.8"/>
<line x1="284.84" y1="396.4" x2="284.84" y2="398.4" stroke="#000" stroke-width="0.8"/>
<line x1="286.93" y1="396.4" x2="286.93" y2="398.4" stroke="#000" stroke-width="0.8"/>
<line x1="288.8" y1="396.4" x2="288.8" y2="399.9" stroke="#000" stroke-width="0.8"/>
<line x1="301.11" y1="396.4" x2="301.11" y2="398.4" stroke="#000" stroke-width="0.8"/>
<line x1="308.31" y1="396.4" x2="308.31" y2="398.4" stroke="#000" stroke-width="0.8"/>
<line x1="313.42" y1="396.4" x2="313.42" y2="398.4" stroke="#000" stroke-width="0.8"/>
<line x1="317.39" y1="396.4" x2="317.39" y2="398.4" stroke="#000" stroke-width="0.8"/>
<line x1="320.63" y1="396.4" x2="320.63" y2="398.4" stroke="#000" stroke-width="0.8"/>
<line x1="323.36" y1="396.4" x2="323.36" y2="398.4" stroke="#000" stroke-width="0.8"/>
<line x1="325.74" y1="396.4" x2="325.74" y2="398.4" stroke="#000" stroke-width="0.8"/>
<line x1="327.83" y1="396.4" x2="327.83" y2="398.4" stroke="#000" stroke-width="0.8"/>
<line x1="329.7" y1="396.4" x2="329.7" y2="399.9" stroke="#000" stroke-width="0.8"/>
<line x1="342.01" y1="396.4" x2="342.01" y2="398.4" stroke="#000" stroke-width="0.8"/>
<line x1="349.21" y1="396.4" x2="349.21" y2="398.4" stroke="#000" stroke-width="0.8"/>
<line x1="354.32" y1="396.4" x2="354.32" y2="398.4" stroke="#000" stroke-width="0.8"/>
<line x1="358.29" y1="396.4" x2="358.29" y2="398.4" stroke="#000" stroke-width="0.8"/>
<line x1="361.53" y1="396.4" x2="361.53" y2="398.4" stroke="#000" stroke-width="0.8"/>
<line x1="364.26" y1="396.4" x2="364.26" y2="398.4" stroke="#000" stroke-width="0.8"/>
<line x1="366.64" y1="396.4" x2="366.64" y2="398.4" stroke="#000" stroke-width="0.8"/>
<line x1="368.73" y1="396.4" x2="368.73" y2="398.4" stroke="#000" stroke-width="0.8"/>
<line x1="370.6" y1="396.4" x2="370.6" y2="399.9" stroke="#000" stroke-width="0.8"/>
<line x1="382.91" y1="396.4" x2="382.91" y2="398.4" stroke="#000" stroke-width="0.8"/>
<line x1="390.11" y1="396.4" x2="390.11" y2="398.4" stroke="#000" stroke-width="0.8"/>
<line x1="395.22" y1="396.4" x2="395.22" y2="398.4" stroke="#000" stroke-width="0.8"/>
<line x1="399.19" y1="396.4" x2="399.19" y2="398.4" stroke="#000" stroke-width="0.8"/>
<line x1="402.43" y1="396.4" x2="402.43" y2="398.4" stroke="#000" stroke-width="0.8"/>
<line x1="405.16" y1="396.4" x2="405.16" y2="398.4" stroke="#000" stroke-width="0.8"/>
<line x1="407.54" y1="396.4" x2="407.54" y2="398.4" stroke="#000" stroke-width="0.8"/>
<line x1="409.63" y1="396.4" x2="409.63" y2="398.4" stroke="#000" stroke-width="0.8"/>
<line x1="411.5" y1="396.4" x2="411.5" y2="399.9" stroke="#000" stroke-width="0.8"/>
<line x1="423.81" y1="396.4" x2="423.81" y2="398.4" stroke="#000" stroke-width="0.8"/>
<line x1="431.01" y1="396.4" x2="431.01" y2="398.4" stroke="#000" stroke-width="0.8"/>
<line x1="436.12" y1="396.4" x2="436.12" y2="398.4" stroke="#000" stroke-width="0.8"/>
<line x1="440.09" y1="396.4" x2="440.09" y2="398.4" stroke="#000" stroke-width="0.8"/>
<line x1="443.33" y1="396.4" x2="443.33" y2="398.4" stroke="#000" stroke-width="0.8"/>
<line x1="446.06" y1="396.4" x2="446.06" y2="398.4" stroke="#000" stroke-width="0.8"/>
<line x1="448.44" y1="396.4" x2="448.44" y2="398.4" stroke="#000" stroke-width="0.8"/>
<line x1="450.53" y1="396.4" x2="450.53" y2="398.4" stroke="#000" stroke-width="0.8"/>
<line x1="452.4" y1="396.4" x2="452.4" y2="399.9" stroke="#000" stroke-width="0.8"/>
<text x="281.5" y="410.1" font-size="10" text-anchor="start" fill="#000" font-weight="normal" stroke="#000" stroke-width="0.1" >10</text>
<text x="293" y="406.7" font-size="7" text-anchor="start" fill="#000" font-weight="normal" stroke="#000" stroke-width="0.1" >2</text>
<text x="322.4" y="410.1" font-size="10" text-anchor="start" fill="#000" font-weight="normal" stroke="#000" stroke-width="0.1" >10</text>
<text x="333.9" y="406.7" font-size="7" text-anchor="start" fill="#000" font-weight="normal" stroke="#000" stroke-width="0.1" >3</text>
<text x="363.3" y="410.1" font-size="10" text-anchor="start" fill="#000" font-weight="normal" stroke="#000" stroke-width="0.1" >10</text>
<text x="374.8" y="406.7" font-size="7" text-anchor="start" fill="#000" font-weight="normal" stroke="#000" stroke-width="0.1" >4</text>
<text x="404.2" y="410.1" font-size="10" text-anchor="start" fill="#000" font-weight="normal" stroke="#000" stroke-width="0.1" >10</text>
<text x="415.7" y="406.7" font-size="7" text-anchor="start" fill="#000" font-weight="normal" stroke="#000" stroke-width="0.1" >5</text>
<text x="445.1" y="410.1" font-size="10" text-anchor="start" fill="#000" font-weight="normal" stroke="#000" stroke-width="0.1" >10</text>
<text x="456.6" y="406.7" font-size="7" text-anchor="start" fill="#000" font-weight="normal" stroke="#000" stroke-width="0.1" >6</text>
<text x="385.8" y="318.4" font-size="9.5" text-anchor="start" fill="#000" font-weight="normal" textLength="28.4" lengthAdjust="spacingAndGlyphs" >ID test</text>
<line x1="386.1" y1="318.8" x2="379.59" y2="323.98" stroke="#000" stroke-width="0.9"/>
<path d="M376.3,326.6 L378.34,322.42 L380.83,325.55 z" fill="#000"/>
<line x1="284.5" y1="359.2" x2="298.8" y2="359.2" stroke="#1f77b4" stroke-width="1.4"/>
<line x1="291.7" y1="354.2" x2="291.7" y2="364.2" stroke="#1f77b4" stroke-width="1.2"/>
<circle cx="291.7" cy="359.2" r="3.1" fill="#fff" stroke="#1f77b4" stroke-width="1.2"/>
<line x1="284.5" y1="372.6" x2="298.8" y2="372.6" stroke="#ff7f0e" stroke-width="1.4"/>
<line x1="291.7" y1="367.6" x2="291.7" y2="377.6" stroke="#ff7f0e" stroke-width="1.2"/>
<rect x="288.55" y="369.45" width="6.3" height="6.3" fill="#fff" stroke="#ff7f0e" stroke-width="1.2"/>
<line x1="284.5" y1="386.4" x2="298.8" y2="386.4" stroke="#8c564b" stroke-width="1.4"/>
<line x1="291.7" y1="381.4" x2="291.7" y2="391.4" stroke="#8c564b" stroke-width="1.2"/>
<path d="M291.7,383.4 L294.7,389.4 L288.7,389.4 z" fill="#fff" stroke="#8c564b" stroke-width="1.15" stroke-linejoin="miter"/>
<text x="301.3" y="362.4" font-size="9.5" text-anchor="start" fill="#000" font-weight="normal" stroke="#000" stroke-width="0.1" >F</text>
<text x="301.3" y="376" font-size="9.5" text-anchor="start" fill="#000" font-weight="normal" stroke="#000" stroke-width="0.1" >H</text>
<text x="303.1" y="389.4" font-size="9.5" text-anchor="start" fill="#000" font-weight="normal" textLength="60.2" lengthAdjust="spacingAndGlyphs" stroke="#000" stroke-width="0.1" >≥ 5 elements</text>
<text x="365.9" y="422.7" font-size="9.5" text-anchor="middle" fill="#000" font-weight="normal" textLength="108.6" lengthAdjust="spacingAndGlyphs" stroke="#000" stroke-width="0.1" >Number of training data</text>
<text x="0" y="0" font-size="9.5" text-anchor="middle" fill="#000" font-weight="normal" textLength="69" lengthAdjust="spacingAndGlyphs" stroke="#000" stroke-width="0.1" transform="translate(248.3,307.6) rotate(-90)">MAE (eV/atom)</text>
<text x="239" y="231.9" font-size="17" text-anchor="start" fill="#000" font-weight="bold" >e</text>
<path d="M510.7,395.6 L510.7,387.9 L514.11,387.9 L514.11,384.4 L517.52,384.4 L517.52,380.8 L520.94,380.8 L520.94,375.9 L524.35,375.9 L524.35,366.8 L527.76,366.8 L527.76,357.6 L531.17,357.6 L531.17,351.3 L534.58,351.3 L534.58,331.5 L538,331.5 L538,299.4 L541.41,299.4 L541.41,266.5 L544.82,266.5 L544.82,249.6 L548.23,249.6 L548.23,246.3 L551.64,246.3 L551.64,265.1 L555.06,265.1 L555.06,294.1 L558.47,294.1 L558.47,327.5 L561.88,327.5 L561.88,354.3 L565.29,354.3 L565.29,373.5 L568.7,373.5 L568.7,383.6 L572.12,383.6 L572.12,389.3 L575.53,389.3 L575.53,392 L578.94,392 L578.94,393.6 L582.35,393.6 L582.35,394.4 L585.76,394.4 L585.76,395 L589.18,395 L589.18,395.2 L592.59,395.2 L592.59,395.3 L596,395.3 L596,395.5 L599.41,395.5 L599.41,395.5 L602.82,395.5 L602.82,395.5 L606.24,395.5 L606.24,395.5 L609.65,395.5 L609.65,395.5 L613.06,395.5 L613.06,395.5 L616.47,395.5 L616.47,395.5 L619.88,395.5 L619.88,395.5 L623.3,395.5 L623.3,395.5 L626.71,395.5 L626.71,395.5 L630.12,395.5 L630.12,395.5 L633.53,395.5 L633.53,395.5 L636.94,395.5 L636.94,395.5 L640.36,395.5 L640.36,395.5 L643.77,395.5 L643.77,395.5 L647.18,395.5 L647.18,395.5 L650.59,395.5 L650.59,395.5 L654,395.5 L654,395.5 L657.42,395.5 L657.42,395.5 L660.83,395.5 L660.83,395.5 L664.24,395.5 L664.24,395.5 L667.65,395.5 L667.65,395.5 L671.06,395.5 L671.06,395.5 L674.48,395.5 L674.48,395.5 L677.89,395.5 L677.89,395.5 L681.3,395.5 L681.3,395.6" fill="none" stroke="#1f77b4" stroke-width="1.4" stroke-linejoin="round" stroke-linecap="butt" clip-path="url(#cf)" stroke-linejoin="miter"/>
<path d="M510.7,395.6 L510.7,394.2 L514.11,394.2 L514.11,392.1 L517.52,392.1 L517.52,391.8 L520.94,391.8 L520.94,391.4 L524.35,391.4 L524.35,388.6 L527.76,388.6 L527.76,380.6 L531.17,380.6 L531.17,382.3 L534.58,382.3 L534.58,381.1 L538,381.1 L538,380.1 L541.41,380.1 L541.41,373.8 L544.82,373.8 L544.82,361.1 L548.23,361.1 L548.23,337.2 L551.64,337.2 L551.64,321.7 L555.06,321.7 L555.06,308.3 L558.47,308.3 L558.47,314.6 L561.88,314.6 L561.88,315.1 L565.29,315.1 L565.29,315.1 L568.7,315.1 L568.7,319.6 L572.12,319.6 L572.12,327.3 L575.53,327.3 L575.53,336.5 L578.94,336.5 L578.94,345 L582.35,345 L582.35,355 L585.76,355 L585.76,357 L589.18,357 L589.18,362.4 L592.59,362.4 L592.59,368.8 L596,368.8 L596,372.8 L599.41,372.8 L599.41,376.3 L602.82,376.3 L602.82,381 L606.24,381 L606.24,382 L609.65,382 L609.65,383.8 L613.06,383.8 L613.06,384.8 L616.47,384.8 L616.47,383.8 L619.88,383.8 L619.88,384.4 L623.3,384.4 L623.3,384.8 L626.71,384.8 L626.71,385.2 L630.12,385.2 L630.12,385.7 L633.53,385.7 L633.53,391.4 L636.94,391.4 L636.94,393.2 L640.36,393.2 L640.36,394.7 L643.77,394.7 L643.77,395.2 L647.18,395.2 L647.18,395.5 L650.59,395.5 L650.59,395.5 L654,395.5 L654,395.5 L657.42,395.5 L657.42,395.5 L660.83,395.5 L660.83,395.5 L664.24,395.5 L664.24,395.5 L667.65,395.5 L667.65,395.5 L671.06,395.5 L671.06,395.5 L674.48,395.5 L674.48,395.5 L677.89,395.5 L677.89,395.5 L681.3,395.5 L681.3,395.6" fill="none" stroke="#ff7f0e" stroke-width="1.4" stroke-linejoin="round" stroke-linecap="butt" clip-path="url(#cf)" stroke-linejoin="miter"/>
<path d="M510.7,395.6 L510.7,394.2 L514.11,394.2 L514.11,392.4 L517.52,392.4 L517.52,392.8 L520.94,392.8 L520.94,393.2 L524.35,393.2 L524.35,392.4 L527.76,392.4 L527.76,385.4 L531.17,385.4 L531.17,385.4 L534.58,385.4 L534.58,386.8 L538,386.8 L538,387.9 L541.41,387.9 L541.41,387.8 L544.82,387.8 L544.82,384.6 L548.23,384.6 L548.23,376.2 L551.64,376.2 L551.64,369.1 L555.06,369.1 L555.06,363.8 L558.47,363.8 L558.47,359 L561.88,359 L561.88,359 L565.29,359 L565.29,359 L568.7,359 L568.7,347 L572.12,347 L572.12,341 L575.53,341 L575.53,337.2 L578.94,337.2 L578.94,342.5 L582.35,342.5 L582.35,352.4 L585.76,352.4 L585.76,360 L589.18,360 L589.18,363.2 L592.59,363.2 L592.59,359.6 L596,359.6 L596,360.8 L599.41,360.8 L599.41,365.2 L602.82,365.2 L602.82,366 L606.24,366 L606.24,369.2 L609.65,369.2 L609.65,364.1 L613.06,364.1 L613.06,364.7 L616.47,364.7 L616.47,366 L619.88,366 L619.88,366 L623.3,366 L623.3,366.9 L626.71,366.9 L626.71,367 L630.12,367 L630.12,368.2 L633.53,368.2 L633.53,371 L636.94,371 L636.94,373 L640.36,373 L640.36,374.5 L643.77,374.5 L643.77,374.5 L647.18,374.5 L647.18,373.5 L650.59,373.5 L650.59,378.2 L654,378.2 L654,382.9 L657.42,382.9 L657.42,384.8 L660.83,384.8 L660.83,384.8 L664.24,384.8 L664.24,386.1 L667.65,386.1 L667.65,386.1 L671.06,386.1 L671.06,386.7 L674.48,386.7 L674.48,385.7 L677.89,385.7 L677.89,395.6" fill="none" stroke="#2ca02c" stroke-width="1.4" stroke-linejoin="round" stroke-linecap="butt" clip-path="url(#cf)" stroke-linejoin="miter"/>
<rect x="510.7" y="224.5" width="170.6" height="171.1" fill="none" stroke="#000" stroke-width="0.8"/>
<line x1="507.2" y1="395.6" x2="510.7" y2="395.6" stroke="#000" stroke-width="0.8"/>
<text x="504.2" y="398.95" font-size="10" text-anchor="end" fill="#000" font-weight="normal" stroke="#000" stroke-width="0.1" >0.0</text>
<line x1="507.2" y1="338.57" x2="510.7" y2="338.57" stroke="#000" stroke-width="0.8"/>
<text x="504.2" y="341.92" font-size="10" text-anchor="end" fill="#000" font-weight="normal" stroke="#000" stroke-width="0.1" >0.5</text>
<line x1="507.2" y1="281.53" x2="510.7" y2="281.53" stroke="#000" stroke-width="0.8"/>
<text x="504.2" y="284.88" font-size="10" text-anchor="end" fill="#000" font-weight="normal" stroke="#000" stroke-width="0.1" >1.0</text>
<line x1="507.2" y1="224.5" x2="510.7" y2="224.5" stroke="#000" stroke-width="0.8"/>
<text x="504.2" y="227.85" font-size="10" text-anchor="end" fill="#000" font-weight="normal" stroke="#000" stroke-width="0.1" >1.5</text>
<line x1="510.7" y1="395.6" x2="510.7" y2="399.1" stroke="#000" stroke-width="0.8"/>
<text x="510.7" y="409.3" font-size="10" text-anchor="middle" fill="#000" font-weight="normal" stroke="#000" stroke-width="0.1" >−1</text>
<line x1="544.82" y1="395.6" x2="544.82" y2="399.1" stroke="#000" stroke-width="0.8"/>
<text x="544.82" y="409.3" font-size="10" text-anchor="middle" fill="#000" font-weight="normal" stroke="#000" stroke-width="0.1" >0</text>
<line x1="578.94" y1="395.6" x2="578.94" y2="399.1" stroke="#000" stroke-width="0.8"/>
<text x="578.94" y="409.3" font-size="10" text-anchor="middle" fill="#000" font-weight="normal" stroke="#000" stroke-width="0.1" >1</text>
<line x1="613.06" y1="395.6" x2="613.06" y2="399.1" stroke="#000" stroke-width="0.8"/>
<text x="613.06" y="409.3" font-size="10" text-anchor="middle" fill="#000" font-weight="normal" stroke="#000" stroke-width="0.1" >2</text>
<line x1="647.18" y1="395.6" x2="647.18" y2="399.1" stroke="#000" stroke-width="0.8"/>
<text x="647.18" y="409.3" font-size="10" text-anchor="middle" fill="#000" font-weight="normal" stroke="#000" stroke-width="0.1" >3</text>
<line x1="681.3" y1="395.6" x2="681.3" y2="399.1" stroke="#000" stroke-width="0.8"/>
<text x="681.3" y="409.3" font-size="10" text-anchor="middle" fill="#000" font-weight="normal" stroke="#000" stroke-width="0.1" >4</text>
<text x="558.9" y="237.8" font-size="11" text-anchor="start" fill="#000" font-weight="normal" textLength="61" lengthAdjust="spacingAndGlyphs" >Leave-H-out</text>
<text x="568.3" y="262.3" font-size="11" text-anchor="start" fill="#1f77b4" font-weight="normal" textLength="18" lengthAdjust="spacingAndGlyphs" >1 %</text>
<line x1="567.9" y1="261.3" x2="562.5" y2="265.88" stroke="#1f77b4" stroke-width="0.9"/>
<path d="M559.3,268.6 L561.21,264.36 L563.8,267.41 z" fill="#1f77b4"/>
<text x="579.2" y="306.8" font-size="11" text-anchor="start" fill="#ff7f0e" font-weight="normal" textLength="24.6" lengthAdjust="spacingAndGlyphs" >33 %</text>
<line x1="579.2" y1="305" x2="573.71" y2="309.98" stroke="#ff7f0e" stroke-width="0.9"/>
<path d="M570.6,312.8 L572.37,308.5 L575.05,311.46 z" fill="#ff7f0e"/>
<text x="619.6" y="353.1" font-size="11" text-anchor="start" fill="#2ca02c" font-weight="normal" textLength="30.6" lengthAdjust="spacingAndGlyphs" >100 %</text>
<line x1="618.5" y1="352.3" x2="613.48" y2="356.65" stroke="#2ca02c" stroke-width="0.9"/>
<path d="M610.3,359.4 L612.17,355.14 L614.78,358.16 z" fill="#2ca02c"/>
<text x="0" y="0" font-size="9.5" text-anchor="middle" fill="#000" font-weight="normal" textLength="80" lengthAdjust="spacingAndGlyphs" stroke="#000" stroke-width="0.1" transform="translate(485,304.7) rotate(-90)">Distribution density</text>
<text x="533.6" y="422.8" font-size="11" font-style="italic" textLength="6" lengthAdjust="spacingAndGlyphs">y</text>
<text x="540.2" y="424.6" font-size="7.4" textLength="25.4" lengthAdjust="spacingAndGlyphs">predict</text>
<text x="568.4" y="423.4" font-size="10.5" textLength="8" lengthAdjust="spacingAndGlyphs">−</text>
<text x="579.2" y="422.8" font-size="11" font-style="italic" textLength="6" lengthAdjust="spacingAndGlyphs">y</text>
<text x="586.4" y="424.6" font-size="7.4" textLength="15" lengthAdjust="spacingAndGlyphs">true</text>
<text x="605.3" y="422.8" font-size="10" textLength="53.6" lengthAdjust="spacingAndGlyphs">(eV/atom)</text>
<text x="466.6" y="231.9" font-size="17" text-anchor="start" fill="#000" font-weight="bold" >f</text>
</svg></body></html>
